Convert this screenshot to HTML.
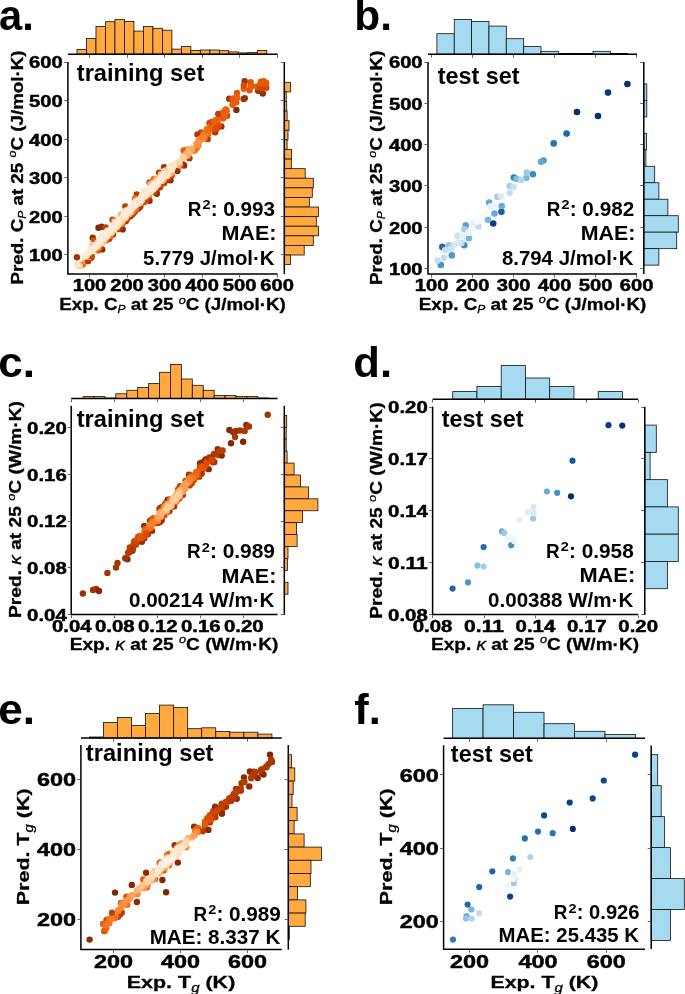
<!DOCTYPE html>
<html><head><meta charset="utf-8"><style>
html,body{margin:0;padding:0;background:#fff;}
svg{display:block;will-change:transform;}
text{font-family:"Liberation Sans", sans-serif;font-weight:bold;}
</style></head><body>
<svg width="685" height="994" viewBox="0 0 685 994">
<rect width="685" height="994" fill="#fff"/>
<clipPath id="clipa"><rect x="67.9" y="62" width="209.7" height="212"/></clipPath>
<g clip-path="url(#clipa)"><circle cx="262.8" cy="93.5" r="3.2" fill="#8e2d04"/><circle cx="92.7" cy="237.8" r="3.2" fill="#8e2d04"/><circle cx="244.64" cy="81.25" r="3.2" fill="#9f3303"/><circle cx="258.01" cy="90.84" r="3.2" fill="#a53603"/><circle cx="76.9" cy="257.3" r="3.2" fill="#a83703"/><circle cx="139.44" cy="207.15" r="3.2" fill="#b53b02"/><circle cx="167.19" cy="179.94" r="3.2" fill="#b33b02"/><circle cx="164.1" cy="167.1" r="3.2" fill="#a83703"/><circle cx="177.5" cy="171" r="3.2" fill="#993103"/><circle cx="216.57" cy="128.65" r="3.2" fill="#ce4401"/><circle cx="102.2" cy="249.4" r="3.2" fill="#8c2c04"/><circle cx="126.32" cy="220.46" r="3.2" fill="#b53b02"/><circle cx="209.46" cy="123.15" r="3.2" fill="#c34002"/><circle cx="107.74" cy="239.26" r="3.2" fill="#d64701"/><circle cx="134.71" cy="211.71" r="3.2" fill="#b63c02"/><circle cx="122.7" cy="229.4" r="3.2" fill="#862a04"/><circle cx="237" cy="92.95" r="3.2" fill="#e35608"/><circle cx="200.99" cy="132.5" r="3.2" fill="#db4b03"/><circle cx="149.5" cy="200.8" r="3.2" fill="#8b2c04"/><circle cx="160.04" cy="186.94" r="3.2" fill="#b33b02"/><circle cx="236.29" cy="102.37" r="3.2" fill="#e15307"/><circle cx="118.74" cy="227.72" r="3.2" fill="#d04501"/><circle cx="154.03" cy="179.03" r="3.2" fill="#e5590a"/><circle cx="262" cy="87.32" r="3.2" fill="#dc4c03"/><circle cx="229.17" cy="98.81" r="3.2" fill="#a03403"/><circle cx="207.28" cy="137.22" r="3.2" fill="#e45709"/><circle cx="149.55" cy="182.48" r="3.2" fill="#c84202"/><circle cx="99.66" cy="248.78" r="3.2" fill="#b53b02"/><circle cx="222.96" cy="112.41" r="3.2" fill="#eb600e"/><circle cx="217.52" cy="119.59" r="3.2" fill="#ec620f"/><circle cx="224.13" cy="113.74" r="3.2" fill="#ec620f"/><circle cx="156.9" cy="189.25" r="3.2" fill="#cd4401"/><circle cx="145.18" cy="200.59" r="3.2" fill="#d54601"/><circle cx="225.44" cy="109.94" r="3.2" fill="#eb610f"/><circle cx="250.6" cy="85.67" r="3.2" fill="#e75c0c"/><circle cx="91.21" cy="257.76" r="3.2" fill="#b53b02"/><circle cx="265.7" cy="84.42" r="3.2" fill="#e4580a"/><circle cx="162.79" cy="182.02" r="3.2" fill="#f5741f"/><circle cx="82.93" cy="264.59" r="3.2" fill="#f06712"/><circle cx="222.56" cy="118.34" r="3.2" fill="#eb600e"/><circle cx="221.4" cy="126.4" r="3.2" fill="#993103"/><circle cx="232.54" cy="98.82" r="3.2" fill="#e35608"/><circle cx="144.04" cy="201.97" r="3.2" fill="#cb4302"/><circle cx="119.04" cy="227.16" r="3.2" fill="#da4902"/><circle cx="138.27" cy="208.29" r="3.2" fill="#b53b02"/><circle cx="125.3" cy="206.5" r="3.2" fill="#bd3e02"/><circle cx="106.64" cy="239.39" r="3.2" fill="#f26b15"/><circle cx="223.78" cy="113.29" r="3.2" fill="#ec620f"/><circle cx="257.3" cy="86.53" r="3.2" fill="#e45709"/><circle cx="244.76" cy="98.17" r="3.2" fill="#9f3303"/><circle cx="249.56" cy="90.26" r="3.2" fill="#e15407"/><circle cx="123.72" cy="221.62" r="3.2" fill="#e75c0c"/><circle cx="131.38" cy="215.09" r="3.2" fill="#b53b02"/><circle cx="98.5" cy="227.8" r="3.2" fill="#832804"/><circle cx="201.17" cy="136.22" r="3.2" fill="#fb8735"/><circle cx="194.99" cy="149.82" r="3.2" fill="#f4711c"/><circle cx="243.83" cy="88.73" r="3.2" fill="#e85d0c"/><circle cx="121.77" cy="224.44" r="3.2" fill="#d34601"/><circle cx="148.52" cy="198.22" r="3.2" fill="#b53b02"/><circle cx="112.6" cy="219.73" r="3.2" fill="#b53b02"/><circle cx="233.08" cy="104.02" r="3.2" fill="#ea5f0e"/><circle cx="132.78" cy="212.94" r="3.2" fill="#ce4401"/><circle cx="200.52" cy="139.43" r="3.2" fill="#fd8c3b"/><circle cx="214.16" cy="124.31" r="3.2" fill="#ee6410"/><circle cx="205.71" cy="136.29" r="3.2" fill="#f57520"/><circle cx="218.71" cy="124.7" r="3.2" fill="#e45709"/><circle cx="109.04" cy="238.81" r="3.2" fill="#b53b02"/><circle cx="207.31" cy="132.32" r="3.2" fill="#f3701b"/><circle cx="197.45" cy="134.44" r="3.2" fill="#b03903"/><circle cx="182.98" cy="164.49" r="3.2" fill="#ab3803"/><circle cx="262" cy="87.1" r="3.2" fill="#de4e05"/><circle cx="109.45" cy="238.37" r="3.2" fill="#b53b02"/><circle cx="223.11" cy="113.11" r="3.2" fill="#eb610f"/><circle cx="118.24" cy="229.04" r="3.2" fill="#b53b02"/><circle cx="262.83" cy="85.88" r="3.2" fill="#e35608"/><circle cx="170.5" cy="180.2" r="3.2" fill="#8b2c04"/><circle cx="260.89" cy="81.69" r="3.2" fill="#e5590a"/><circle cx="101.6" cy="226.8" r="3.2" fill="#882a04"/><circle cx="166.16" cy="178.54" r="3.2" fill="#f77b28"/><circle cx="157.16" cy="187.55" r="3.2" fill="#f5741f"/><circle cx="105.71" cy="227.53" r="3.2" fill="#c34002"/><circle cx="205.61" cy="133.43" r="3.2" fill="#f67723"/><circle cx="218.2" cy="114.06" r="3.2" fill="#c03f02"/><circle cx="200.04" cy="138.61" r="3.2" fill="#fd8f3e"/><circle cx="98.02" cy="250.36" r="3.2" fill="#b93d02"/><circle cx="223.77" cy="113.5" r="3.2" fill="#ec620f"/><circle cx="207.67" cy="139.17" r="3.2" fill="#b63c02"/><circle cx="208.29" cy="133.66" r="3.2" fill="#f16913"/><circle cx="215.11" cy="123.57" r="3.2" fill="#ee6410"/><circle cx="132.83" cy="213.64" r="3.2" fill="#b53b02"/><circle cx="210.56" cy="126.57" r="3.2" fill="#ee6410"/><circle cx="120.47" cy="226.68" r="3.2" fill="#b53b02"/><circle cx="140.23" cy="206.37" r="3.2" fill="#b53b02"/><circle cx="260.84" cy="91.33" r="3.2" fill="#9e3303"/><circle cx="211.97" cy="128.21" r="3.2" fill="#ee6410"/><circle cx="159.1" cy="172.6" r="3.2" fill="#b63c02"/><circle cx="210.24" cy="125.75" r="3.2" fill="#eb600e"/><circle cx="121.38" cy="222.76" r="3.2" fill="#fd9b50"/><circle cx="259.84" cy="87.34" r="3.2" fill="#dd4d04"/><circle cx="236.4" cy="109.9" r="3.2" fill="#892b04"/><circle cx="211.72" cy="121.84" r="3.2" fill="#d84801"/><circle cx="132.06" cy="213.93" r="3.2" fill="#c34002"/><circle cx="171.61" cy="175.61" r="3.2" fill="#b03903"/><circle cx="114.28" cy="220.34" r="3.2" fill="#f87e2b"/><circle cx="199.9" cy="140.7" r="3.2" fill="#fd8f3e"/><circle cx="99.41" cy="247.44" r="3.2" fill="#e75c0c"/><circle cx="130.23" cy="216.31" r="3.2" fill="#b53b02"/><circle cx="251.91" cy="85.97" r="3.2" fill="#e75b0b"/><circle cx="147.18" cy="199.54" r="3.2" fill="#b53b02"/><circle cx="204.25" cy="138.51" r="3.2" fill="#f57622"/><circle cx="127.66" cy="215.69" r="3.2" fill="#fdaf6c"/><circle cx="113" cy="234.61" r="3.2" fill="#b53b02"/><circle cx="147.65" cy="198.56" r="3.2" fill="#c54102"/><circle cx="236.69" cy="96.78" r="3.2" fill="#ea5f0e"/><circle cx="88.53" cy="256.86" r="3.2" fill="#fdbf86"/><circle cx="164.15" cy="182.91" r="3.2" fill="#b33b02"/><circle cx="215.49" cy="120.22" r="3.2" fill="#e95e0d"/><circle cx="156.8" cy="193.7" r="3.2" fill="#8b2c04"/><circle cx="184.2" cy="150.7" r="3.2" fill="#f9802d"/><circle cx="196.34" cy="143.64" r="3.2" fill="#fd9c51"/><circle cx="227.12" cy="115.77" r="3.2" fill="#d04501"/><circle cx="125.52" cy="221.31" r="3.2" fill="#b53b02"/><circle cx="184.2" cy="165.6" r="3.2" fill="#902e04"/><circle cx="120.6" cy="222.73" r="3.2" fill="#fdc590"/><circle cx="194.82" cy="150.34" r="3.2" fill="#f16813"/><circle cx="215.16" cy="132.24" r="3.2" fill="#a53603"/><circle cx="188.37" cy="151.53" r="3.2" fill="#fdbb81"/><circle cx="265.53" cy="82.69" r="3.2" fill="#e4580a"/><circle cx="193.56" cy="150.79" r="3.2" fill="#f9812e"/><circle cx="85.51" cy="260.7" r="3.2" fill="#fd9f56"/><circle cx="225.79" cy="109.4" r="3.2" fill="#eb600e"/><circle cx="205.34" cy="135.04" r="3.2" fill="#f67824"/><circle cx="207.21" cy="133.57" r="3.2" fill="#f3701b"/><circle cx="101.58" cy="243.48" r="3.2" fill="#fda965"/><circle cx="236.86" cy="98.26" r="3.2" fill="#ea5f0e"/><circle cx="126.81" cy="218.76" r="3.2" fill="#dd4d04"/><circle cx="243.62" cy="98.96" r="3.2" fill="#9f3303"/><circle cx="250.6" cy="82.09" r="3.2" fill="#e35608"/><circle cx="136.78" cy="194.45" r="3.2" fill="#b53b02"/><circle cx="211.74" cy="129.19" r="3.2" fill="#ee6410"/><circle cx="224.65" cy="116.13" r="3.2" fill="#e95e0d"/><circle cx="198.49" cy="140.18" r="3.2" fill="#fd9446"/><circle cx="154.6" cy="191.97" r="3.2" fill="#bd3e02"/><circle cx="215.09" cy="129.09" r="3.2" fill="#de5005"/><circle cx="184.25" cy="154.74" r="3.2" fill="#fdca99"/><circle cx="79.85" cy="265.86" r="3.2" fill="#fdc794"/><circle cx="109.91" cy="235.97" r="3.2" fill="#f16813"/><circle cx="137.54" cy="209.01" r="3.2" fill="#b53b02"/><circle cx="140.12" cy="206.48" r="3.2" fill="#b53b02"/><circle cx="179.12" cy="165.53" r="3.2" fill="#f67723"/><circle cx="110.4" cy="234.54" r="3.2" fill="#fd9547"/><circle cx="266.31" cy="87.68" r="3.2" fill="#d54601"/><circle cx="147.56" cy="199.17" r="3.2" fill="#b53b02"/><circle cx="95.94" cy="249.48" r="3.2" fill="#fda965"/><circle cx="157.24" cy="186.55" r="3.2" fill="#fda25a"/><circle cx="130.25" cy="211.97" r="3.2" fill="#fdd7af"/><circle cx="94.05" cy="240.82" r="3.2" fill="#e15407"/><circle cx="153.24" cy="189.34" r="3.2" fill="#fdd5ab"/><circle cx="90.91" cy="255.46" r="3.2" fill="#fb8836"/><circle cx="187.05" cy="149.28" r="3.2" fill="#fda965"/><circle cx="251.81" cy="86.32" r="3.2" fill="#e75b0b"/><circle cx="263.82" cy="81.29" r="3.2" fill="#e5590a"/><circle cx="97.41" cy="248.93" r="3.2" fill="#f57622"/><circle cx="159.77" cy="187.2" r="3.2" fill="#b33b02"/><circle cx="168.1" cy="179.05" r="3.2" fill="#b33b02"/><circle cx="119.85" cy="223.22" r="3.2" fill="#fdd1a4"/><circle cx="161.66" cy="184.25" r="3.2" fill="#da4902"/><circle cx="235.61" cy="101.8" r="3.2" fill="#e75c0c"/><circle cx="190.28" cy="150.94" r="3.2" fill="#fdb373"/><circle cx="114.33" cy="230.06" r="3.2" fill="#fda45d"/><circle cx="133.56" cy="209.94" r="3.2" fill="#fd9c51"/><circle cx="105.83" cy="240.41" r="3.2" fill="#ee6410"/><circle cx="189.45" cy="158.15" r="3.2" fill="#b03903"/><circle cx="130.4" cy="216.13" r="3.2" fill="#b53b02"/><circle cx="232.46" cy="104.73" r="3.2" fill="#ea5f0e"/><circle cx="88.01" cy="261.15" r="3.2" fill="#b33b02"/><circle cx="150.33" cy="183.77" r="3.2" fill="#fc8b3a"/><circle cx="183.6" cy="150.4" r="3.2" fill="#e95e0d"/><circle cx="125.36" cy="216.7" r="3.2" fill="#fee0c3"/><circle cx="261.56" cy="87.93" r="3.2" fill="#d64701"/><circle cx="91.37" cy="255.74" r="3.2" fill="#ee6410"/><circle cx="206.73" cy="129.22" r="3.2" fill="#f26b15"/><circle cx="119.89" cy="223.99" r="3.2" fill="#fdad69"/><circle cx="203.55" cy="135.01" r="3.2" fill="#f9802d"/><circle cx="106.72" cy="236.57" r="3.2" fill="#fedfc0"/><circle cx="215.85" cy="123.38" r="3.2" fill="#ed6310"/><circle cx="89.13" cy="257.15" r="3.2" fill="#fd9243"/><circle cx="162.37" cy="180.76" r="3.2" fill="#fdc794"/><circle cx="186.27" cy="154.02" r="3.2" fill="#fdc38d"/><circle cx="170.7" cy="175.36" r="3.2" fill="#da4902"/><circle cx="180.26" cy="165.4" r="3.2" fill="#de5005"/><circle cx="156.54" cy="185.83" r="3.2" fill="#fddbb8"/><circle cx="223.2" cy="118.27" r="3.2" fill="#e75c0c"/><circle cx="226.41" cy="110.69" r="3.2" fill="#eb610f"/><circle cx="226.52" cy="110.7" r="3.2" fill="#eb610f"/><circle cx="124.74" cy="216.53" r="3.2" fill="#fee9d4"/><circle cx="114.44" cy="228.3" r="3.2" fill="#fee0c3"/><circle cx="91.74" cy="256.31" r="3.2" fill="#d34601"/><circle cx="243.87" cy="85.45" r="3.2" fill="#dc4c03"/><circle cx="225.24" cy="113.6" r="3.2" fill="#eb610f"/><circle cx="145.96" cy="199.79" r="3.2" fill="#d64701"/><circle cx="148.35" cy="193.78" r="3.2" fill="#feddbc"/><circle cx="162.34" cy="177.48" r="3.2" fill="#feecd9"/><circle cx="171.35" cy="165.39" r="3.2" fill="#fee0c1"/><circle cx="150.28" cy="188.97" r="3.2" fill="#feecd9"/><circle cx="116.98" cy="224.95" r="3.2" fill="#fee8d2"/><circle cx="216.98" cy="127.46" r="3.2" fill="#db4b03"/><circle cx="260.66" cy="83.23" r="3.2" fill="#e65a0b"/><circle cx="165.4" cy="176.19" r="3.2" fill="#fee8d2"/><circle cx="112.62" cy="229.98" r="3.2" fill="#fee5cb"/><circle cx="160.93" cy="174.21" r="3.2" fill="#fdb576"/><circle cx="149.83" cy="188.07" r="3.2" fill="#feebd8"/><circle cx="116.89" cy="227.51" r="3.2" fill="#fd9c51"/><circle cx="113.75" cy="226.56" r="3.2" fill="#feecd9"/><circle cx="92.46" cy="248.95" r="3.2" fill="#feebd7"/><circle cx="134.9" cy="198.52" r="3.2" fill="#f57622"/><circle cx="144.35" cy="191.48" r="3.2" fill="#fddab6"/><circle cx="265.75" cy="87.34" r="3.2" fill="#da4902"/><circle cx="161.65" cy="176.05" r="3.2" fill="#feebd7"/><circle cx="168.77" cy="168.56" r="3.2" fill="#fee9d3"/><circle cx="198.51" cy="145.4" r="3.2" fill="#f87e2b"/><circle cx="122.01" cy="221.47" r="3.2" fill="#fdb97d"/><circle cx="161.6" cy="178.12" r="3.2" fill="#feecd9"/><circle cx="101.66" cy="241.78" r="3.2" fill="#fee2c6"/><circle cx="187.86" cy="155.46" r="3.2" fill="#fda45d"/><circle cx="171.11" cy="173.6" r="3.2" fill="#f87e2b"/><circle cx="116.66" cy="226.48" r="3.2" fill="#fdd5ab"/><circle cx="121.22" cy="219.15" r="3.2" fill="#feecd9"/><circle cx="151.02" cy="188.67" r="3.2" fill="#feecd9"/><circle cx="124.64" cy="218.33" r="3.2" fill="#fdca99"/><circle cx="107.3" cy="230.6" r="3.2" fill="#fee6cf"/><circle cx="150.64" cy="191.41" r="3.2" fill="#fee0c1"/><circle cx="178.62" cy="164.96" r="3.2" fill="#fda762"/><circle cx="176.31" cy="163.29" r="3.2" fill="#fedfc0"/><circle cx="154.98" cy="187.46" r="3.2" fill="#fdd9b4"/><circle cx="167.22" cy="174.47" r="3.2" fill="#fee8d2"/><circle cx="184.52" cy="157.19" r="3.2" fill="#fdc692"/><circle cx="141.18" cy="200.96" r="3.2" fill="#fddab6"/><circle cx="135.47" cy="206.11" r="3.2" fill="#fee3c8"/><circle cx="214.17" cy="121.92" r="3.2" fill="#eb600e"/><circle cx="164.38" cy="171.5" r="3.2" fill="#fdd3a9"/><circle cx="162.72" cy="176.42" r="3.2" fill="#feecd9"/><circle cx="167.13" cy="172.66" r="3.2" fill="#feecd9"/><circle cx="98.33" cy="242.49" r="3.2" fill="#feecd9"/><circle cx="204.82" cy="134.95" r="3.2" fill="#f77a27"/><circle cx="90.93" cy="249.27" r="3.2" fill="#feead6"/><circle cx="127.43" cy="213.29" r="3.2" fill="#feebd7"/><circle cx="101.12" cy="239.6" r="3.2" fill="#feecd9"/><circle cx="117.54" cy="222.82" r="3.2" fill="#feecd9"/><circle cx="119.91" cy="222.05" r="3.2" fill="#fee6cf"/><circle cx="266.2" cy="82.9" r="3.2" fill="#e4580a"/><circle cx="129.56" cy="213.98" r="3.2" fill="#fd9f56"/><circle cx="167.31" cy="176.13" r="3.2" fill="#fdbd83"/><circle cx="182.86" cy="158.09" r="3.2" fill="#fdcfa0"/><circle cx="153.46" cy="185.53" r="3.2" fill="#feecd9"/><circle cx="135.18" cy="206.72" r="3.2" fill="#feddbc"/><circle cx="196.99" cy="147.87" r="3.2" fill="#f26d17"/><circle cx="132.02" cy="207.84" r="3.2" fill="#feecd9"/><circle cx="139.29" cy="199.74" r="3.2" fill="#feecd9"/><circle cx="125.68" cy="216.52" r="3.2" fill="#fedebd"/><circle cx="96.9" cy="246.04" r="3.2" fill="#fee9d3"/><circle cx="150.62" cy="188.88" r="3.2" fill="#feecd9"/><circle cx="94.28" cy="248.43" r="3.2" fill="#feead5"/><circle cx="163.48" cy="178.03" r="3.2" fill="#fee8d2"/><circle cx="153.56" cy="182.72" r="3.2" fill="#fee0c1"/><circle cx="115.61" cy="224.17" r="3.2" fill="#feecd9"/><circle cx="141.08" cy="198.01" r="3.2" fill="#feecd9"/><circle cx="154.09" cy="185.03" r="3.2" fill="#feecd9"/><circle cx="132.15" cy="211.75" r="3.2" fill="#fb8735"/><circle cx="135.98" cy="208.37" r="3.2" fill="#f5741f"/><circle cx="132.06" cy="207.73" r="3.2" fill="#feecd9"/><circle cx="114.05" cy="227.78" r="3.2" fill="#feead5"/><circle cx="119.51" cy="224.15" r="3.2" fill="#fdb87c"/><circle cx="202.35" cy="137.87" r="3.2" fill="#fa8532"/><circle cx="122.93" cy="216.82" r="3.2" fill="#feecd9"/><circle cx="132.64" cy="211.63" r="3.2" fill="#f57520"/><circle cx="101.72" cy="240.15" r="3.2" fill="#feebd8"/><circle cx="123.29" cy="216.25" r="3.2" fill="#feecd9"/><circle cx="109" cy="231.16" r="3.2" fill="#feecd9"/><circle cx="144.69" cy="194.91" r="3.2" fill="#feecd9"/><circle cx="118.87" cy="217.88" r="3.2" fill="#fee1c4"/><circle cx="136.34" cy="202.55" r="3.2" fill="#feecd9"/><circle cx="98.25" cy="242.68" r="3.2" fill="#feecd9"/><circle cx="111.07" cy="229.26" r="3.2" fill="#feecd9"/><circle cx="102.55" cy="237.82" r="3.2" fill="#feecd9"/><circle cx="145.99" cy="193.47" r="3.2" fill="#feecd9"/><circle cx="142.17" cy="196.51" r="3.2" fill="#feecd9"/><circle cx="164.6" cy="175.48" r="3.2" fill="#feecd9"/><circle cx="110.88" cy="230.15" r="3.2" fill="#feecd9"/><circle cx="110.88" cy="229.16" r="3.2" fill="#feecd9"/><circle cx="97.45" cy="243.44" r="3.2" fill="#feebd8"/><circle cx="123.98" cy="216.13" r="3.2" fill="#feecd9"/><circle cx="154.23" cy="187.81" r="3.2" fill="#fee1c4"/><circle cx="149.31" cy="194.67" r="3.2" fill="#fd9243"/><circle cx="119.38" cy="220.29" r="3.2" fill="#feecd9"/><circle cx="179.77" cy="163.58" r="3.2" fill="#fdae6a"/><circle cx="150.53" cy="191.61" r="3.2" fill="#fedebd"/><circle cx="155.88" cy="178.91" r="3.2" fill="#fda863"/><circle cx="117.11" cy="222.75" r="3.2" fill="#feecd9"/><circle cx="116.71" cy="224.61" r="3.2" fill="#feebd7"/><circle cx="164.75" cy="176.81" r="3.2" fill="#fee8d2"/><circle cx="113.79" cy="228.98" r="3.2" fill="#fee0c3"/><circle cx="150.8" cy="184.18" r="3.2" fill="#fdb678"/><circle cx="95.88" cy="246.95" r="3.2" fill="#feead5"/><circle cx="92.3" cy="250.71" r="3.2" fill="#fee9d4"/><circle cx="97.41" cy="243.58" r="3.2" fill="#feebd8"/><circle cx="168.37" cy="171.31" r="3.2" fill="#feecd9"/><circle cx="169.91" cy="173.19" r="3.2" fill="#fdce9e"/><circle cx="137.04" cy="201.17" r="3.2" fill="#feecd9"/><circle cx="120.92" cy="222.7" r="3.2" fill="#fdb678"/><circle cx="174.14" cy="165.45" r="3.2" fill="#fee5cb"/><circle cx="159.75" cy="180.56" r="3.2" fill="#feecd9"/><circle cx="141.76" cy="200.28" r="3.2" fill="#fedcbb"/><circle cx="86.91" cy="254.53" r="3.2" fill="#feead6"/><circle cx="120.94" cy="214.41" r="3.2" fill="#fdb87c"/><circle cx="99.49" cy="241.05" r="3.2" fill="#feecd9"/><circle cx="160.22" cy="179.49" r="3.2" fill="#feecd9"/><circle cx="111.56" cy="232.73" r="3.2" fill="#fdb271"/><circle cx="158.12" cy="184.05" r="3.2" fill="#fee0c1"/><circle cx="123.96" cy="215.88" r="3.2" fill="#feecd9"/><circle cx="127.4" cy="211.31" r="3.2" fill="#feecd9"/><circle cx="114.65" cy="222.08" r="3.2" fill="#fedcb9"/><circle cx="158.07" cy="180.7" r="3.2" fill="#feecd9"/><circle cx="119.01" cy="220.51" r="3.2" fill="#feecd9"/><circle cx="106.9" cy="235.06" r="3.2" fill="#feebd7"/><circle cx="136.29" cy="202.56" r="3.2" fill="#feecd9"/><circle cx="190.12" cy="151.8" r="3.2" fill="#fdb271"/><circle cx="132.55" cy="207.96" r="3.2" fill="#feead6"/><circle cx="118.41" cy="221.21" r="3.2" fill="#feecd9"/><circle cx="141.82" cy="195.61" r="3.2" fill="#feebd7"/><circle cx="166.15" cy="173.37" r="3.2" fill="#feecd9"/><circle cx="122.21" cy="219.15" r="3.2" fill="#fee9d4"/><circle cx="79.14" cy="266.28" r="3.2" fill="#fdd1a4"/><circle cx="120.69" cy="223.73" r="3.2" fill="#fd9040"/><circle cx="113.49" cy="227.61" r="3.2" fill="#feebd8"/><circle cx="140.18" cy="202.79" r="3.2" fill="#fdbd83"/><circle cx="188.57" cy="150.71" r="3.2" fill="#fdba7f"/><circle cx="137.07" cy="204.25" r="3.2" fill="#fee6cf"/><circle cx="99.58" cy="239.3" r="3.2" fill="#feead5"/><circle cx="89.37" cy="252.27" r="3.2" fill="#feead6"/><circle cx="182.96" cy="156.67" r="3.2" fill="#fdcfa0"/><circle cx="131.73" cy="206.87" r="3.2" fill="#feecd9"/><circle cx="119.18" cy="221.81" r="3.2" fill="#feebd8"/><circle cx="114.1" cy="227.19" r="3.2" fill="#feebd8"/><circle cx="77.05" cy="264.56" r="3.2" fill="#fee3c8"/><circle cx="197.55" cy="145.39" r="3.2" fill="#fd9040"/><circle cx="108.84" cy="231.61" r="3.2" fill="#feecd9"/><circle cx="116.84" cy="225.58" r="3.2" fill="#fee3c8"/><circle cx="110.44" cy="230.17" r="3.2" fill="#feecd9"/><circle cx="104.25" cy="236.56" r="3.2" fill="#feecd9"/><circle cx="153.79" cy="184.22" r="3.2" fill="#feebd8"/><circle cx="132.01" cy="206.99" r="3.2" fill="#feecd9"/><circle cx="120.99" cy="218.8" r="3.2" fill="#feecd9"/><circle cx="137.55" cy="203.61" r="3.2" fill="#fee8d2"/><circle cx="139.94" cy="200.96" r="3.2" fill="#fee9d4"/><circle cx="104.02" cy="240.76" r="3.2" fill="#fdb170"/><circle cx="85.29" cy="256" r="3.2" fill="#feead5"/><circle cx="191.75" cy="148.69" r="3.2" fill="#fdae6a"/><circle cx="170.58" cy="169.56" r="3.2" fill="#feebd7"/><circle cx="88.91" cy="252.96" r="3.2" fill="#feead6"/><circle cx="153.23" cy="189.21" r="3.2" fill="#fdd8b2"/><circle cx="129.89" cy="211.56" r="3.2" fill="#fee5cc"/><circle cx="117.87" cy="221.51" r="3.2" fill="#feecd9"/><circle cx="158.38" cy="181.35" r="3.2" fill="#feecd9"/><circle cx="165.1" cy="173.92" r="3.2" fill="#feecd9"/><circle cx="92.39" cy="245.15" r="3.2" fill="#fdca99"/><circle cx="154.32" cy="186.78" r="3.2" fill="#feead5"/><circle cx="102.05" cy="238.49" r="3.2" fill="#feecd9"/><circle cx="126.23" cy="215.9" r="3.2" fill="#fedebf"/><circle cx="156.6" cy="184.6" r="3.2" fill="#fee9d4"/><circle cx="97.88" cy="246.35" r="3.2" fill="#fdd6ae"/><circle cx="118.19" cy="224.52" r="3.2" fill="#feddbc"/><circle cx="123.99" cy="215.74" r="3.2" fill="#feecd9"/><circle cx="126.03" cy="210.34" r="3.2" fill="#fee2c6"/><circle cx="171.71" cy="172.05" r="3.2" fill="#fdac67"/><circle cx="151.94" cy="189.59" r="3.2" fill="#fee7d0"/><circle cx="129.83" cy="212.5" r="3.2" fill="#fdd5ab"/><circle cx="151.33" cy="188.18" r="3.2" fill="#feecd9"/><circle cx="121.85" cy="221.6" r="3.2" fill="#fdbb81"/><circle cx="164.08" cy="177.14" r="3.2" fill="#feead5"/><circle cx="130.69" cy="208.29" r="3.2" fill="#feecd9"/><circle cx="105.52" cy="234.25" r="3.2" fill="#feecd9"/><circle cx="144.2" cy="194.79" r="3.2" fill="#feecd9"/><circle cx="152.89" cy="187.6" r="3.2" fill="#feebd8"/><circle cx="105.76" cy="235.74" r="3.2" fill="#feecd9"/><circle cx="110.71" cy="229.79" r="3.2" fill="#feecd9"/><circle cx="151.82" cy="187.01" r="3.2" fill="#feecd9"/><circle cx="150.18" cy="191.34" r="3.2" fill="#fee7d0"/><circle cx="164.11" cy="176.24" r="3.2" fill="#feecd9"/><circle cx="135.98" cy="201.48" r="3.2" fill="#feebd8"/><circle cx="100.82" cy="243.17" r="3.2" fill="#fdd8b2"/><circle cx="167.5" cy="174.55" r="3.2" fill="#fee5cb"/><circle cx="111.71" cy="230.24" r="3.2" fill="#feead5"/><circle cx="123.47" cy="216.02" r="3.2" fill="#feecd9"/><circle cx="130.51" cy="211.44" r="3.2" fill="#fedcbb"/><circle cx="133.12" cy="205.99" r="3.2" fill="#feecd9"/><circle cx="126.26" cy="214.46" r="3.2" fill="#feebd7"/><circle cx="152.34" cy="189.81" r="3.2" fill="#fedebf"/><circle cx="108.74" cy="231.18" r="3.2" fill="#feecd9"/><circle cx="111.43" cy="232.51" r="3.2" fill="#fdc38d"/><circle cx="163.6" cy="180.09" r="3.2" fill="#fdad69"/><circle cx="149.52" cy="191.26" r="3.2" fill="#feebd7"/><circle cx="117.34" cy="223.24" r="3.2" fill="#feecd9"/><circle cx="142.41" cy="196.44" r="3.2" fill="#feecd9"/><circle cx="113.16" cy="227.04" r="3.2" fill="#feecd9"/><circle cx="123.65" cy="217.79" r="3.2" fill="#fee8d2"/><circle cx="141.57" cy="198.94" r="3.2" fill="#feebd7"/><circle cx="130.88" cy="209.47" r="3.2" fill="#feebd7"/><circle cx="120.4" cy="221.54" r="3.2" fill="#fee6cf"/><circle cx="111.96" cy="231.36" r="3.2" fill="#fdd7b1"/><circle cx="103.73" cy="237.52" r="3.2" fill="#feecd9"/><circle cx="133.14" cy="205.29" r="3.2" fill="#feecd9"/><circle cx="137.47" cy="202.77" r="3.2" fill="#feebd8"/><circle cx="91.38" cy="249.5" r="3.2" fill="#feebd7"/><circle cx="90.71" cy="250.2" r="3.2" fill="#feebd7"/><circle cx="102.36" cy="240.34" r="3.2" fill="#fee9d3"/><circle cx="170.84" cy="168.94" r="3.2" fill="#feead6"/><circle cx="105.27" cy="236.85" r="3.2" fill="#feead6"/><circle cx="144.67" cy="194.6" r="3.2" fill="#feecd9"/><circle cx="179.12" cy="161.94" r="3.2" fill="#fdd7b1"/><circle cx="134.19" cy="206.19" r="3.2" fill="#feebd7"/><circle cx="146.99" cy="193.14" r="3.2" fill="#feecd9"/><circle cx="160.75" cy="180.4" r="3.2" fill="#feead5"/><circle cx="162.29" cy="177.97" r="3.2" fill="#feecd9"/><circle cx="142.91" cy="196.53" r="3.2" fill="#feecd9"/><circle cx="167.01" cy="172.33" r="3.2" fill="#feecd9"/><circle cx="135.21" cy="203.68" r="3.2" fill="#feecd9"/><circle cx="94.01" cy="247.68" r="3.2" fill="#feebd7"/><circle cx="124.83" cy="214.68" r="3.2" fill="#feecd9"/><circle cx="154.73" cy="185.74" r="3.2" fill="#feebd8"/><circle cx="137.52" cy="200.78" r="3.2" fill="#feecd9"/><circle cx="145.18" cy="196.58" r="3.2" fill="#fee2c7"/><circle cx="96.09" cy="244.61" r="3.2" fill="#feebd8"/><circle cx="110.67" cy="231.11" r="3.2" fill="#feebd7"/><circle cx="104.33" cy="236.99" r="3.2" fill="#feecd9"/><circle cx="159.68" cy="181.37" r="3.2" fill="#feead6"/><circle cx="146.95" cy="192.66" r="3.2" fill="#feecd9"/><circle cx="157.41" cy="184.32" r="3.2" fill="#fee6ce"/><circle cx="124.65" cy="214.79" r="3.2" fill="#feecd9"/><circle cx="150.27" cy="192.22" r="3.2" fill="#fdd5ad"/><circle cx="108.53" cy="231.82" r="3.2" fill="#feecd9"/><circle cx="133.35" cy="205.33" r="3.2" fill="#feecd9"/><circle cx="102.03" cy="236.12" r="3.2" fill="#fee6ce"/><circle cx="130.05" cy="209.81" r="3.2" fill="#feecd9"/><circle cx="96.54" cy="245.76" r="3.2" fill="#feebd7"/><circle cx="109.37" cy="232.51" r="3.2" fill="#feead6"/><circle cx="103.02" cy="240.03" r="3.2" fill="#fee6cf"/><circle cx="139.06" cy="199.82" r="3.2" fill="#feecd9"/><circle cx="144.62" cy="191.41" r="3.2" fill="#fedebf"/><circle cx="124.26" cy="216.36" r="3.2" fill="#feebd8"/><circle cx="115.55" cy="224.62" r="3.2" fill="#feecd9"/><circle cx="122.61" cy="220.29" r="3.2" fill="#fdd1a4"/><circle cx="124.08" cy="212.15" r="3.2" fill="#feddbc"/><circle cx="125.52" cy="216.87" r="3.2" fill="#fdd9b5"/><circle cx="164.93" cy="170.81" r="3.2" fill="#fdcfa0"/><circle cx="124.93" cy="215.3" r="3.2" fill="#feecd9"/><circle cx="151.43" cy="190.14" r="3.2" fill="#fee6cf"/><circle cx="91.28" cy="251.31" r="3.2" fill="#feead6"/><circle cx="103.86" cy="236.91" r="3.2" fill="#feecd9"/><circle cx="160.14" cy="178.98" r="3.2" fill="#feecd9"/><circle cx="172.53" cy="168.24" r="3.2" fill="#fee7d0"/><circle cx="96.02" cy="244.58" r="3.2" fill="#feebd8"/><circle cx="145.24" cy="191.45" r="3.2" fill="#fee7d1"/><circle cx="113.21" cy="226.59" r="3.2" fill="#feecd9"/><circle cx="102.4" cy="238.63" r="3.2" fill="#feecd9"/><circle cx="109.53" cy="232.42" r="3.2" fill="#feead6"/><circle cx="163.58" cy="175.19" r="3.2" fill="#feecd9"/><circle cx="171.09" cy="169.87" r="3.2" fill="#fee9d4"/><circle cx="132.19" cy="207.11" r="3.2" fill="#feecd9"/><circle cx="116.03" cy="224.83" r="3.2" fill="#feecd9"/><circle cx="95.19" cy="246.17" r="3.2" fill="#feebd8"/><circle cx="126.85" cy="211.59" r="3.2" fill="#feecd9"/><circle cx="102.26" cy="240.09" r="3.2" fill="#feead6"/><circle cx="84.36" cy="256.84" r="3.2" fill="#feead5"/><circle cx="104.27" cy="237.5" r="3.2" fill="#feebd8"/><circle cx="145.21" cy="195.51" r="3.2" fill="#feead6"/><circle cx="164.57" cy="174.41" r="3.2" fill="#feecd9"/><circle cx="110.34" cy="231.29" r="3.2" fill="#feebd7"/><circle cx="130.72" cy="209.01" r="3.2" fill="#feecd9"/><circle cx="152.03" cy="185.8" r="3.2" fill="#feebd8"/><circle cx="138.28" cy="203.39" r="3.2" fill="#fee2c7"/><circle cx="163.7" cy="176.11" r="3.2" fill="#feecd9"/><circle cx="98.52" cy="242.44" r="3.2" fill="#feecd9"/><circle cx="115.44" cy="226.59" r="3.2" fill="#fee8d2"/><circle cx="107.18" cy="234.19" r="3.2" fill="#feecd9"/><circle cx="100.8" cy="239.37" r="3.2" fill="#feecd9"/><circle cx="99.8" cy="240.34" r="3.2" fill="#feecd9"/><circle cx="146.34" cy="194.67" r="3.2" fill="#fee9d4"/><circle cx="129.9" cy="208.01" r="3.2" fill="#feecd9"/><circle cx="105.61" cy="237.51" r="3.2" fill="#fee3c8"/><circle cx="106.85" cy="232.89" r="3.2" fill="#feecd9"/><circle cx="127.47" cy="212.1" r="3.2" fill="#feecd9"/><circle cx="99.05" cy="242.19" r="3.2" fill="#feecd9"/><circle cx="96.85" cy="245.17" r="3.2" fill="#feebd8"/><circle cx="129.42" cy="210.09" r="3.2" fill="#feecd9"/><circle cx="86.83" cy="255.13" r="3.2" fill="#feead6"/><circle cx="140.79" cy="199.82" r="3.2" fill="#feebd7"/><circle cx="118.12" cy="224.49" r="3.2" fill="#fedfc0"/><circle cx="124.18" cy="216.6" r="3.2" fill="#feebd7"/><circle cx="124.82" cy="215.04" r="3.2" fill="#feecd9"/><circle cx="156.51" cy="183.62" r="3.2" fill="#feecd9"/><circle cx="167.41" cy="174.53" r="3.2" fill="#fee6ce"/><circle cx="112.73" cy="229.03" r="3.2" fill="#feead6"/><circle cx="105.16" cy="237.77" r="3.2" fill="#fee6ce"/><circle cx="155.9" cy="183.49" r="3.2" fill="#feecd9"/><circle cx="151.27" cy="188.24" r="3.2" fill="#feecd9"/><circle cx="106.77" cy="234.97" r="3.2" fill="#feebd8"/><circle cx="100.16" cy="239.54" r="3.2" fill="#feecd9"/><circle cx="150.8" cy="189.26" r="3.2" fill="#feecd9"/><circle cx="97.81" cy="243.39" r="3.2" fill="#feebd8"/><circle cx="118.87" cy="221.62" r="3.2" fill="#feecd9"/><circle cx="156.6" cy="183.11" r="3.2" fill="#feecd9"/><circle cx="160.8" cy="179" r="3.2" fill="#feecd9"/><circle cx="124.89" cy="214.86" r="3.2" fill="#feecd9"/><circle cx="113.86" cy="225.42" r="3.2" fill="#feecd9"/><circle cx="98.83" cy="243.1" r="3.2" fill="#feebd8"/><circle cx="134.68" cy="204.7" r="3.2" fill="#feecd9"/><circle cx="150.62" cy="188.65" r="3.2" fill="#feecd9"/></g>
<g fill="#FFA940" stroke="#111" stroke-width="0.8"><rect x="77" y="49.4" width="9.49" height="4.8"/><rect x="86.49" y="38.4" width="9.49" height="15.8"/><rect x="95.98" y="26.4" width="9.49" height="27.8"/><rect x="105.47" y="21.7" width="9.49" height="32.5"/><rect x="114.96" y="19.5" width="9.49" height="34.7"/><rect x="124.45" y="21.4" width="9.49" height="32.8"/><rect x="133.94" y="31.1" width="9.49" height="23.1"/><rect x="143.43" y="26.4" width="9.49" height="27.8"/><rect x="152.92" y="28.3" width="9.49" height="25.9"/><rect x="162.41" y="30.2" width="9.49" height="24"/><rect x="171.9" y="49.1" width="9.49" height="5.1"/><rect x="181.39" y="46.6" width="9.49" height="7.6"/><rect x="190.88" y="50.4" width="9.49" height="3.8"/><rect x="200.37" y="50" width="9.49" height="4.2"/><rect x="209.86" y="50" width="9.49" height="4.2"/><rect x="219.35" y="50.7" width="9.49" height="3.5"/><rect x="228.84" y="51.9" width="9.49" height="2.3"/><rect x="238.33" y="52.9" width="9.49" height="1.3"/><rect x="247.82" y="52.6" width="9.49" height="1.6"/><rect x="257.31" y="50.4" width="9.49" height="3.8"/><rect x="284.3" y="82.3" width="6.1" height="9.6"/><rect x="284.3" y="91.89" width="1.9" height="9.6"/><rect x="284.3" y="101.49" width="2.4" height="9.6"/><rect x="284.3" y="111.09" width="2.8" height="9.6"/><rect x="284.3" y="120.68" width="4.7" height="9.6"/><rect x="284.3" y="130.28" width="3.7" height="9.6"/><rect x="284.3" y="139.87" width="2.8" height="9.6"/><rect x="284.3" y="149.47" width="7.2" height="9.6"/><rect x="284.3" y="159.06" width="7" height="9.6"/><rect x="284.3" y="168.66" width="20.9" height="9.6"/><rect x="284.3" y="178.25" width="29" height="9.6"/><rect x="284.3" y="187.84" width="28" height="9.6"/><rect x="284.3" y="197.44" width="25" height="9.6"/><rect x="284.3" y="207.04" width="34.1" height="9.6"/><rect x="284.3" y="216.63" width="32" height="9.6"/><rect x="284.3" y="226.23" width="34.1" height="9.6"/><rect x="284.3" y="235.82" width="29" height="9.6"/><rect x="284.3" y="245.42" width="19.9" height="9.6"/><rect x="284.3" y="255.01" width="6.1" height="9.6"/></g>
<g stroke="#000" stroke-width="1.5" fill="none" stroke-linecap="butt" stroke-linejoin="miter">
<path d="M67.9 62V274H277.6"/>
<path d="M67.9 54.2H277.6"/>
<path d="M284.3 62V274"/>
</g>
<path d="M89.5 274.75v2.8M89.5 54.95v2.8M127.5 274.75v2.8M127.5 54.95v2.8M164.5 274.75v2.8M164.5 54.95v2.8M202.5 274.75v2.8M202.5 54.95v2.8M239.5 274.75v2.8M239.5 54.95v2.8M277.5 274.75v2.8M277.5 54.95v2.8M67.15 254.5h-2.8M283.55 254.5h-2.8M67.15 216.5h-2.8M283.55 216.5h-2.8M67.15 177.5h-2.8M283.55 177.5h-2.8M67.15 139.5h-2.8M283.55 139.5h-2.8M67.15 100.5h-2.8M283.55 100.5h-2.8M67.15 62.5h-2.8M283.55 62.5h-2.8" stroke="#555" stroke-width="0.9" fill="none"/>
<g font-size="16.0" stroke="#000" stroke-width="0.45"><text x="89.5" y="291.2" text-anchor="middle" textLength="33.62" lengthAdjust="spacingAndGlyphs">100</text><text x="127.04" y="291.2" text-anchor="middle" textLength="33.62" lengthAdjust="spacingAndGlyphs">200</text><text x="164.58" y="291.2" text-anchor="middle" textLength="33.62" lengthAdjust="spacingAndGlyphs">300</text><text x="202.12" y="291.2" text-anchor="middle" textLength="33.62" lengthAdjust="spacingAndGlyphs">400</text><text x="239.66" y="291.2" text-anchor="middle" textLength="33.62" lengthAdjust="spacingAndGlyphs">500</text><text x="277.2" y="291.2" text-anchor="middle" textLength="33.62" lengthAdjust="spacingAndGlyphs">600</text><text x="62.7" y="261.2" text-anchor="end" textLength="33.62" lengthAdjust="spacingAndGlyphs">100</text><text x="62.7" y="222.64" text-anchor="end" textLength="33.62" lengthAdjust="spacingAndGlyphs">200</text><text x="62.7" y="184.08" text-anchor="end" textLength="33.62" lengthAdjust="spacingAndGlyphs">300</text><text x="62.7" y="145.52" text-anchor="end" textLength="33.62" lengthAdjust="spacingAndGlyphs">400</text><text x="62.7" y="106.96" text-anchor="end" textLength="33.62" lengthAdjust="spacingAndGlyphs">500</text><text x="62.7" y="68.4" text-anchor="end" textLength="33.62" lengthAdjust="spacingAndGlyphs">600</text></g>
<text stroke="#000" stroke-width="0.3" x="59.2" y="310.1" font-size="17.2" textLength="226.6" lengthAdjust="spacingAndGlyphs">Exp. C<tspan font-style="italic" font-weight="normal" font-size="11" dy="3">P</tspan><tspan dy="-3"> at 25 </tspan><tspan font-style="italic" font-weight="normal" font-size="11.5" dy="-6.5">o</tspan><tspan dy="6.5">C (J/mol·K)</tspan></text>
<text stroke="#000" stroke-width="0.3" transform="translate(22.8 284.5) rotate(-90)" x="0" y="0" font-size="17.2" textLength="234.1" lengthAdjust="spacingAndGlyphs">Pred. C<tspan font-style="italic" font-weight="normal" font-size="11" dy="3">P</tspan><tspan dy="-3"> at 25 </tspan><tspan font-style="italic" font-weight="normal" font-size="11.5" dy="-6.5">o</tspan><tspan dy="6.5">C (J/mol·K)</tspan></text>
<text x="-0.95" y="30" font-size="42" textLength="34.72" lengthAdjust="spacingAndGlyphs">a.</text>
<text x="76.76" y="81" font-size="23.6" textLength="127.59" lengthAdjust="spacingAndGlyphs">training set</text>
<text x="187.77" y="215.5" font-size="20.7" textLength="13.65" lengthAdjust="spacingAndGlyphs">R</text>
<text x="202.47" y="209" font-size="12.6" textLength="8.07" lengthAdjust="spacingAndGlyphs" font-weight="normal">2</text>
<text x="210.74" y="215.5" font-size="20.7" textLength="64.36" lengthAdjust="spacingAndGlyphs">: 0.993</text>
<text x="221.4" y="240" font-size="20.7" textLength="55.06" lengthAdjust="spacingAndGlyphs">MAE:</text>
<text x="143.09" y="264.6" font-size="20.7" textLength="131.46" lengthAdjust="spacingAndGlyphs">5.779 J/mol·K</text>
<clipPath id="clipb"><rect x="428" y="62" width="209" height="212"/></clipPath>
<g clip-path="url(#clipb)"><circle cx="577" cy="112" r="3.3" fill="#08306b"/><circle cx="627.4" cy="84" r="3.3" fill="#083370"/><circle cx="598" cy="116" r="3.3" fill="#083471"/><circle cx="608" cy="92.6" r="3.3" fill="#083877"/><circle cx="493.2" cy="223.5" r="3.3" fill="#084184"/><circle cx="501.4" cy="211.7" r="3.3" fill="#1561a9"/><circle cx="566.6" cy="133.6" r="3.3" fill="#1b69af"/><circle cx="442.3" cy="246.9" r="3.3" fill="#1d6cb1"/><circle cx="553.7" cy="143.4" r="3.3" fill="#2373b6"/><circle cx="513.9" cy="177.6" r="3.3" fill="#2b7bba"/><circle cx="464.2" cy="245.3" r="3.3" fill="#3b8bc2"/><circle cx="532.9" cy="174.2" r="3.3" fill="#3b8bc2"/><circle cx="440.8" cy="264.9" r="3.3" fill="#4594c7"/><circle cx="543.5" cy="160.5" r="3.3" fill="#4d99ca"/><circle cx="451.8" cy="255.4" r="3.3" fill="#4e9acb"/><circle cx="465.7" cy="225.4" r="3.3" fill="#5aa2cf"/><circle cx="541" cy="161.8" r="3.3" fill="#5fa6d1"/><circle cx="489.2" cy="202.6" r="3.3" fill="#60a7d2"/><circle cx="494.5" cy="213.6" r="3.3" fill="#68acd5"/><circle cx="501.7" cy="206" r="3.3" fill="#68acd5"/><circle cx="468.9" cy="238.3" r="3.3" fill="#79b5d9"/><circle cx="487.9" cy="219.7" r="3.3" fill="#7ab6d9"/><circle cx="526.4" cy="178" r="3.3" fill="#7cb7da"/><circle cx="516.4" cy="178.9" r="3.3" fill="#81badb"/><circle cx="437.6" cy="260.5" r="3.3" fill="#c6dbef"/><circle cx="457.5" cy="235.8" r="3.3" fill="#d0e1f2"/><circle cx="449" cy="245.3" r="3.3" fill="#9ac8e0"/><circle cx="444.2" cy="257.7" r="3.3" fill="#c6dbef"/><circle cx="445.2" cy="250.1" r="3.3" fill="#c6dbef"/><circle cx="526.8" cy="172.6" r="3.3" fill="#9fcae1"/><circle cx="464.2" cy="229.2" r="3.3" fill="#a6cee4"/><circle cx="497.4" cy="196.9" r="3.3" fill="#a8cee4"/><circle cx="509.7" cy="186" r="3.3" fill="#a8cee4"/><circle cx="461.4" cy="243.1" r="3.3" fill="#c6dbef"/><circle cx="521.1" cy="179.9" r="3.3" fill="#b8d5ea"/><circle cx="478.4" cy="226.4" r="3.3" fill="#c2d9ee"/><circle cx="509.7" cy="192.8" r="3.3" fill="#caddf0"/><circle cx="451.2" cy="248.6" r="3.3" fill="#cde0f1"/><circle cx="513.5" cy="187.1" r="3.3" fill="#cde0f1"/><circle cx="454.7" cy="244.4" r="3.3" fill="#d8e7f5"/><circle cx="458.5" cy="242.5" r="3.3" fill="#d8e7f5"/><circle cx="501.2" cy="196.6" r="3.3" fill="#dceaf6"/><circle cx="473.7" cy="222.6" r="3.3" fill="#e3eef9"/><circle cx="490.7" cy="206.4" r="3.3" fill="#e5eff9"/><circle cx="462.3" cy="236.8" r="3.3" fill="#e8f1fa"/><circle cx="468" cy="233" r="3.3" fill="#e8f1fa"/><circle cx="472.7" cy="228.3" r="3.3" fill="#eef5fc"/><circle cx="494.5" cy="205.5" r="3.3" fill="#eef5fc"/><circle cx="485" cy="214" r="3.3" fill="#f6faff"/><circle cx="477.4" cy="221.6" r="3.3" fill="#f7fbff"/><circle cx="481.2" cy="217.8" r="3.3" fill="#f7fbff"/><circle cx="478.2" cy="220.8" r="3.3" fill="#f7fbff"/></g>
<g fill="#A5DAF0" stroke="#111" stroke-width="0.8"><rect x="436.9" y="33.7" width="17.35" height="20.5"/><rect x="454.25" y="19.5" width="17.35" height="34.7"/><rect x="471.6" y="21.4" width="17.35" height="32.8"/><rect x="488.95" y="26.1" width="17.35" height="28.1"/><rect x="506.3" y="38.7" width="17.35" height="15.5"/><rect x="523.65" y="46.6" width="17.35" height="7.6"/><rect x="541" y="51.3" width="17.35" height="2.9"/><rect x="558.35" y="53.5" width="17.35" height="0.7"/><rect x="575.7" y="53.5" width="17.35" height="0.7"/><rect x="593.05" y="51.3" width="17.35" height="2.9"/><rect x="610.4" y="53.5" width="17.35" height="0.7"/><rect x="643.8" y="83.9" width="3" height="16.48"/><rect x="643.8" y="100.38" width="3" height="16.48"/><rect x="643.8" y="133.33" width="2.8" height="16.48"/><rect x="643.8" y="149.8" width="2.1" height="16.48"/><rect x="643.8" y="166.28" width="10.9" height="16.48"/><rect x="643.8" y="182.75" width="15.1" height="16.48"/><rect x="643.8" y="199.23" width="24.1" height="16.48"/><rect x="643.8" y="215.7" width="34.5" height="16.48"/><rect x="643.8" y="232.18" width="32.9" height="16.48"/><rect x="643.8" y="248.65" width="15.1" height="16.48"/></g>
<g stroke="#000" stroke-width="1.5" fill="none" stroke-linecap="butt" stroke-linejoin="miter">
<path d="M428 62V274H637"/>
<path d="M428 54.2H637"/>
<path d="M643.8 62V274"/>
</g>
<path d="M431.5 274.75v2.8M431.5 54.95v2.8M472.5 274.75v2.8M472.5 54.95v2.8M513.5 274.75v2.8M513.5 54.95v2.8M554.5 274.75v2.8M554.5 54.95v2.8M595.5 274.75v2.8M595.5 54.95v2.8M636.5 274.75v2.8M636.5 54.95v2.8M427.25 268.5h-2.8M643.05 268.5h-2.8M427.25 227.5h-2.8M643.05 227.5h-2.8M427.25 185.5h-2.8M643.05 185.5h-2.8M427.25 144.5h-2.8M643.05 144.5h-2.8M427.25 103.5h-2.8M643.05 103.5h-2.8M427.25 62.5h-2.8M643.05 62.5h-2.8" stroke="#555" stroke-width="0.9" fill="none"/>
<g font-size="16.0" stroke="#000" stroke-width="0.45"><text x="431.6" y="291.2" text-anchor="middle" textLength="33.62" lengthAdjust="spacingAndGlyphs">100</text><text x="472.6" y="291.2" text-anchor="middle" textLength="33.62" lengthAdjust="spacingAndGlyphs">200</text><text x="513.6" y="291.2" text-anchor="middle" textLength="33.62" lengthAdjust="spacingAndGlyphs">300</text><text x="554.6" y="291.2" text-anchor="middle" textLength="33.62" lengthAdjust="spacingAndGlyphs">400</text><text x="595.6" y="291.2" text-anchor="middle" textLength="33.62" lengthAdjust="spacingAndGlyphs">500</text><text x="636.6" y="291.2" text-anchor="middle" textLength="33.62" lengthAdjust="spacingAndGlyphs">600</text><text x="422.6" y="274.9" text-anchor="end" textLength="33.62" lengthAdjust="spacingAndGlyphs">100</text><text x="422.6" y="233.58" text-anchor="end" textLength="33.62" lengthAdjust="spacingAndGlyphs">200</text><text x="422.6" y="192.26" text-anchor="end" textLength="33.62" lengthAdjust="spacingAndGlyphs">300</text><text x="422.6" y="150.94" text-anchor="end" textLength="33.62" lengthAdjust="spacingAndGlyphs">400</text><text x="422.6" y="109.62" text-anchor="end" textLength="33.62" lengthAdjust="spacingAndGlyphs">500</text><text x="422.6" y="68.3" text-anchor="end" textLength="33.62" lengthAdjust="spacingAndGlyphs">600</text></g>
<text stroke="#000" stroke-width="0.3" x="418.7" y="309.8" font-size="17.2" textLength="227.6" lengthAdjust="spacingAndGlyphs">Exp. C<tspan font-style="italic" font-weight="normal" font-size="11" dy="3">P</tspan><tspan dy="-3"> at 25 </tspan><tspan font-style="italic" font-weight="normal" font-size="11.5" dy="-6.5">o</tspan><tspan dy="6.5">C (J/mol·K)</tspan></text>
<text stroke="#000" stroke-width="0.3" transform="translate(382.2 285.1) rotate(-90)" x="0" y="0" font-size="17.2" textLength="234.6" lengthAdjust="spacingAndGlyphs">Pred. C<tspan font-style="italic" font-weight="normal" font-size="11" dy="3">P</tspan><tspan dy="-3"> at 25 </tspan><tspan font-style="italic" font-weight="normal" font-size="11.5" dy="-6.5">o</tspan><tspan dy="6.5">C (J/mol·K)</tspan></text>
<text x="354.25" y="30" font-size="42" textLength="37.67" lengthAdjust="spacingAndGlyphs">b.</text>
<text x="437.67" y="83.5" font-size="23.6" textLength="81.91" lengthAdjust="spacingAndGlyphs">test set</text>
<text x="546.77" y="215.5" font-size="20.7" textLength="13.65" lengthAdjust="spacingAndGlyphs">R</text>
<text x="561.47" y="209" font-size="12.6" textLength="8.07" lengthAdjust="spacingAndGlyphs" font-weight="normal">2</text>
<text x="569.73" y="215.5" font-size="20.7" textLength="64.46" lengthAdjust="spacingAndGlyphs">: 0.982</text>
<text x="580.81" y="240" font-size="20.7" textLength="54.63" lengthAdjust="spacingAndGlyphs">MAE:</text>
<text x="501.89" y="264.6" font-size="20.7" textLength="131.66" lengthAdjust="spacingAndGlyphs">8.794 J/mol·K</text>
<clipPath id="clipc"><rect x="71.2" y="405.8" width="206.4" height="208.8"/></clipPath>
<g clip-path="url(#clipc)"><circle cx="141.87" cy="541.71" r="3.2" fill="#8e2d04"/><circle cx="144.3" cy="538.16" r="3.2" fill="#993103"/><circle cx="214.38" cy="462.09" r="3.2" fill="#973003"/><circle cx="169.46" cy="510.98" r="3.2" fill="#a63603"/><circle cx="132.47" cy="550.71" r="3.2" fill="#9a3103"/><circle cx="188.98" cy="474.72" r="3.2" fill="#932f03"/><circle cx="231" cy="443.3" r="3.2" fill="#852904"/><circle cx="96" cy="589" r="3.2" fill="#a13403"/><circle cx="218" cy="455" r="3.2" fill="#c14002"/><circle cx="93" cy="590" r="3.2" fill="#a03403"/><circle cx="199.17" cy="476.67" r="3.2" fill="#9c3203"/><circle cx="129.18" cy="552.47" r="3.2" fill="#b63c02"/><circle cx="129.31" cy="551.48" r="3.2" fill="#b83c02"/><circle cx="160.79" cy="507.6" r="3.2" fill="#973003"/><circle cx="205.23" cy="462.86" r="3.2" fill="#d54601"/><circle cx="180.04" cy="486.15" r="3.2" fill="#a23503"/><circle cx="235" cy="437" r="3.2" fill="#ae3903"/><circle cx="144.19" cy="525.92" r="3.2" fill="#8c2c04"/><circle cx="129.8" cy="547.5" r="3.2" fill="#b13a03"/><circle cx="191.16" cy="475.51" r="3.2" fill="#db4b03"/><circle cx="167.17" cy="512.16" r="3.2" fill="#dc4c03"/><circle cx="116" cy="567.5" r="3.2" fill="#a23503"/><circle cx="200.52" cy="463.18" r="3.2" fill="#8b2c04"/><circle cx="217.69" cy="449.09" r="3.2" fill="#912e04"/><circle cx="240" cy="430.5" r="3.2" fill="#a83703"/><circle cx="229.4" cy="430" r="3.2" fill="#832804"/><circle cx="134.74" cy="542.67" r="3.2" fill="#d34601"/><circle cx="195.54" cy="474.24" r="3.2" fill="#f26b15"/><circle cx="179.88" cy="488.22" r="3.2" fill="#e65a0b"/><circle cx="150.07" cy="529.44" r="3.2" fill="#e75b0b"/><circle cx="156.98" cy="523.14" r="3.2" fill="#d14501"/><circle cx="190.56" cy="483.64" r="3.2" fill="#e05206"/><circle cx="136.09" cy="544.3" r="3.2" fill="#c94202"/><circle cx="191.87" cy="482.98" r="3.2" fill="#c34002"/><circle cx="117.5" cy="563" r="3.2" fill="#a23503"/><circle cx="164.43" cy="515.17" r="3.2" fill="#dc4c03"/><circle cx="192.18" cy="479.28" r="3.2" fill="#f57520"/><circle cx="107.4" cy="573" r="3.2" fill="#a23503"/><circle cx="243.2" cy="441.8" r="3.2" fill="#802704"/><circle cx="233" cy="432" r="3.2" fill="#9c3203"/><circle cx="160.3" cy="509.03" r="3.2" fill="#a63603"/><circle cx="190.12" cy="477.69" r="3.2" fill="#f3701b"/><circle cx="183.01" cy="494.69" r="3.2" fill="#ab3803"/><circle cx="208.75" cy="469.14" r="3.2" fill="#892b04"/><circle cx="212.67" cy="459.53" r="3.2" fill="#d04501"/><circle cx="205.37" cy="459.58" r="3.2" fill="#912e04"/><circle cx="178.65" cy="498.25" r="3.2" fill="#f4721e"/><circle cx="127.49" cy="559.29" r="3.2" fill="#882a04"/><circle cx="171.84" cy="506.44" r="3.2" fill="#ec620f"/><circle cx="162.96" cy="507.95" r="3.2" fill="#f06712"/><circle cx="159.75" cy="522.35" r="3.2" fill="#963003"/><circle cx="134.35" cy="541.29" r="3.2" fill="#cb4302"/><circle cx="130.45" cy="548.4" r="3.2" fill="#be3f02"/><circle cx="143.68" cy="536.14" r="3.2" fill="#df5106"/><circle cx="246.3" cy="425" r="3.2" fill="#8c2c04"/><circle cx="203.17" cy="468.95" r="3.2" fill="#e15407"/><circle cx="236" cy="431" r="3.2" fill="#9e3303"/><circle cx="132.16" cy="547.73" r="3.2" fill="#c64102"/><circle cx="163.32" cy="506.88" r="3.2" fill="#dc4c03"/><circle cx="162.49" cy="509.29" r="3.2" fill="#fd8e3d"/><circle cx="199.98" cy="463.72" r="3.2" fill="#8b2c04"/><circle cx="202.56" cy="469.25" r="3.2" fill="#e35608"/><circle cx="154.73" cy="520.13" r="3.2" fill="#fc8b3a"/><circle cx="201.7" cy="473.41" r="3.2" fill="#a63603"/><circle cx="166.89" cy="503.71" r="3.2" fill="#f57622"/><circle cx="152.15" cy="524.52" r="3.2" fill="#f98230"/><circle cx="205.87" cy="459.37" r="3.2" fill="#942f03"/><circle cx="167.57" cy="500.08" r="3.2" fill="#9c3203"/><circle cx="144.63" cy="532.83" r="3.2" fill="#ee6511"/><circle cx="166.59" cy="511.83" r="3.2" fill="#f67925"/><circle cx="204.3" cy="467.15" r="3.2" fill="#e05206"/><circle cx="190.46" cy="480.33" r="3.2" fill="#f98230"/><circle cx="133" cy="546" r="3.2" fill="#cb4302"/><circle cx="149.96" cy="520.79" r="3.2" fill="#a03403"/><circle cx="160.81" cy="510.18" r="3.2" fill="#e65a0b"/><circle cx="147.54" cy="530.26" r="3.2" fill="#f36f1a"/><circle cx="189.61" cy="485.42" r="3.2" fill="#c64102"/><circle cx="152.04" cy="530.85" r="3.2" fill="#902e04"/><circle cx="133.62" cy="544.55" r="3.2" fill="#ce4401"/><circle cx="137.07" cy="539.48" r="3.2" fill="#db4b03"/><circle cx="125.2" cy="558.3" r="3.2" fill="#a43503"/><circle cx="185.59" cy="480.85" r="3.2" fill="#ce4401"/><circle cx="186.61" cy="482.78" r="3.2" fill="#fd9b50"/><circle cx="148.77" cy="526.95" r="3.2" fill="#f57520"/><circle cx="206.23" cy="464.71" r="3.2" fill="#dd4d04"/><circle cx="154.19" cy="521.18" r="3.2" fill="#fc8a39"/><circle cx="213.06" cy="462.34" r="3.2" fill="#a83703"/><circle cx="175.94" cy="501.63" r="3.2" fill="#f26d17"/><circle cx="221.7" cy="455.6" r="3.2" fill="#852904"/><circle cx="178.29" cy="489.38" r="3.2" fill="#c64102"/><circle cx="200.75" cy="468.13" r="3.2" fill="#e65a0b"/><circle cx="198.16" cy="475.83" r="3.2" fill="#d54601"/><circle cx="202.33" cy="462.34" r="3.2" fill="#932f03"/><circle cx="145.07" cy="529.22" r="3.2" fill="#e75c0c"/><circle cx="222.59" cy="450.4" r="3.2" fill="#ab3803"/><circle cx="161.7" cy="520.2" r="3.2" fill="#993103"/><circle cx="214" cy="454" r="3.2" fill="#ad3803"/><circle cx="149.45" cy="528.27" r="3.2" fill="#f57622"/><circle cx="187.66" cy="482.89" r="3.2" fill="#fd974a"/><circle cx="99" cy="591" r="3.2" fill="#832804"/><circle cx="136" cy="544.5" r="3.2" fill="#c84202"/><circle cx="163.59" cy="507.05" r="3.2" fill="#eb600e"/><circle cx="165.24" cy="503.81" r="3.2" fill="#b83c02"/><circle cx="196.26" cy="472.05" r="3.2" fill="#ec620f"/><circle cx="174.07" cy="506.41" r="3.2" fill="#9c3203"/><circle cx="132.94" cy="548.66" r="3.2" fill="#b53b02"/><circle cx="138.71" cy="537.97" r="3.2" fill="#df5106"/><circle cx="178.6" cy="494.02" r="3.2" fill="#fdce9e"/><circle cx="151.17" cy="526.33" r="3.2" fill="#f87d29"/><circle cx="153.01" cy="518.57" r="3.2" fill="#c94202"/><circle cx="149.05" cy="526.42" r="3.2" fill="#f57622"/><circle cx="191.51" cy="479.71" r="3.2" fill="#f67925"/><circle cx="168.95" cy="499.71" r="3.2" fill="#b93d02"/><circle cx="204.97" cy="466.04" r="3.2" fill="#de5005"/><circle cx="207.23" cy="461.33" r="3.2" fill="#d54601"/><circle cx="206.28" cy="462.73" r="3.2" fill="#db4b03"/><circle cx="184.2" cy="489.56" r="3.2" fill="#fda25a"/><circle cx="159.43" cy="509.09" r="3.2" fill="#963003"/><circle cx="150.62" cy="527.93" r="3.2" fill="#f4711c"/><circle cx="179.82" cy="497.47" r="3.2" fill="#e15407"/><circle cx="161.5" cy="513.55" r="3.2" fill="#fdb678"/><circle cx="128.11" cy="552.74" r="3.2" fill="#b33b02"/><circle cx="138.19" cy="536.75" r="3.2" fill="#d84801"/><circle cx="184.22" cy="488.3" r="3.2" fill="#fdaf6c"/><circle cx="187.67" cy="482.06" r="3.2" fill="#fd9649"/><circle cx="209.48" cy="457.43" r="3.2" fill="#a53603"/><circle cx="193.99" cy="480.1" r="3.2" fill="#db4a02"/><circle cx="171.78" cy="500.98" r="3.2" fill="#fdcd9c"/><circle cx="267.7" cy="414.8" r="3.2" fill="#9f3303"/><circle cx="193.26" cy="476.53" r="3.2" fill="#f4711c"/><circle cx="178.49" cy="489.33" r="3.2" fill="#d04501"/><circle cx="196.29" cy="475.17" r="3.2" fill="#f16813"/><circle cx="144.53" cy="532.05" r="3.2" fill="#ee6511"/><circle cx="184.85" cy="486.9" r="3.2" fill="#fdab66"/><circle cx="201.48" cy="466.65" r="3.2" fill="#e05206"/><circle cx="141.59" cy="538.26" r="3.2" fill="#dd4d04"/><circle cx="175.7" cy="498.54" r="3.2" fill="#fdce9e"/><circle cx="182.94" cy="492.04" r="3.2" fill="#fd8f3e"/><circle cx="166.66" cy="507.53" r="3.2" fill="#fdce9e"/><circle cx="166.83" cy="510.47" r="3.2" fill="#fdae6a"/><circle cx="159.58" cy="516.35" r="3.2" fill="#fdab66"/><circle cx="171.58" cy="505.73" r="3.2" fill="#fd9649"/><circle cx="171.63" cy="506.12" r="3.2" fill="#f87e2b"/><circle cx="244.7" cy="431" r="3.2" fill="#ab3803"/><circle cx="249" cy="426.5" r="3.2" fill="#a83703"/><circle cx="153.86" cy="518.54" r="3.2" fill="#e75c0c"/><circle cx="177.26" cy="499.95" r="3.2" fill="#f57520"/><circle cx="82.9" cy="593.5" r="3.2" fill="#9b3203"/><circle cx="211.65" cy="460.03" r="3.2" fill="#d34601"/><circle cx="167.91" cy="499.7" r="3.2" fill="#9c3203"/><circle cx="147.81" cy="534.36" r="3.2" fill="#9c3203"/><circle cx="176.02" cy="498.33" r="3.2" fill="#fdce9e"/><circle cx="219.41" cy="451.17" r="3.2" fill="#be3f02"/><circle cx="220.72" cy="450.96" r="3.2" fill="#bb3d02"/><circle cx="139.89" cy="536.32" r="3.2" fill="#e25508"/><circle cx="175.76" cy="497.05" r="3.2" fill="#fdce9e"/><circle cx="178.96" cy="498.62" r="3.2" fill="#df5106"/><circle cx="146.41" cy="531.18" r="3.2" fill="#f26c16"/><circle cx="170.73" cy="501.3" r="3.2" fill="#fdc38d"/><circle cx="165.88" cy="509.04" r="3.2" fill="#fdce9e"/><circle cx="139.42" cy="537.53" r="3.2" fill="#e15407"/><circle cx="182.74" cy="485.85" r="3.2" fill="#fb8836"/><circle cx="170.36" cy="499.56" r="3.2" fill="#f06712"/><circle cx="161.81" cy="507.47" r="3.2" fill="#ad3803"/><circle cx="175.59" cy="499.6" r="3.2" fill="#fdc895"/><circle cx="199.97" cy="467.02" r="3.2" fill="#ce4401"/><circle cx="150.91" cy="521.48" r="3.2" fill="#dc4c03"/><circle cx="157.92" cy="521.07" r="3.2" fill="#f26c16"/><circle cx="167.64" cy="505.08" r="3.2" fill="#fdc895"/><circle cx="177.36" cy="492.67" r="3.2" fill="#fd9b50"/><circle cx="197.6" cy="471.33" r="3.2" fill="#ed6310"/><circle cx="150.9" cy="524.3" r="3.2" fill="#f87d29"/><circle cx="188.58" cy="480.92" r="3.2" fill="#fd9040"/><circle cx="164.2" cy="507.38" r="3.2" fill="#fd9547"/><circle cx="172.82" cy="499.21" r="3.2" fill="#fdc794"/><circle cx="172.42" cy="500.76" r="3.2" fill="#fdce9e"/><circle cx="202.21" cy="466.72" r="3.2" fill="#e35608"/><circle cx="177.3" cy="496.04" r="3.2" fill="#fdce9e"/><circle cx="176.19" cy="501.22" r="3.2" fill="#f5741f"/><circle cx="181.12" cy="489.64" r="3.2" fill="#fdc28b"/><circle cx="170.96" cy="505.16" r="3.2" fill="#fdc28b"/><circle cx="177.4" cy="496.88" r="3.2" fill="#fdcd9c"/><circle cx="189.71" cy="480.65" r="3.2" fill="#fb8836"/><circle cx="146.63" cy="533.05" r="3.2" fill="#e35608"/><circle cx="146.25" cy="533.99" r="3.2" fill="#d94801"/><circle cx="189.22" cy="481.81" r="3.2" fill="#fc8b3a"/><circle cx="193.35" cy="477.83" r="3.2" fill="#f4711c"/><circle cx="175.31" cy="495.95" r="3.2" fill="#fdbd83"/><circle cx="174.12" cy="498.29" r="3.2" fill="#fdcb9b"/><circle cx="177.99" cy="495.48" r="3.2" fill="#fdce9e"/><circle cx="174.55" cy="497.61" r="3.2" fill="#fdca99"/><circle cx="159.98" cy="512.29" r="3.2" fill="#fc8a39"/><circle cx="179.69" cy="495.57" r="3.2" fill="#fdb475"/><circle cx="202.54" cy="467.38" r="3.2" fill="#e45709"/><circle cx="169.73" cy="507.05" r="3.2" fill="#fdb475"/><circle cx="157.76" cy="520.5" r="3.2" fill="#fb8735"/><circle cx="179.58" cy="490.43" r="3.2" fill="#fdb170"/><circle cx="175.96" cy="501.78" r="3.2" fill="#ee6511"/><circle cx="172.1" cy="498.76" r="3.2" fill="#fda159"/><circle cx="179.47" cy="496.32" r="3.2" fill="#fda159"/><circle cx="170.71" cy="504.36" r="3.2" fill="#fdcd9c"/><circle cx="192.17" cy="478.27" r="3.2" fill="#f57622"/><circle cx="171.18" cy="502.87" r="3.2" fill="#fdce9e"/><circle cx="177.69" cy="494.78" r="3.2" fill="#fdce9e"/><circle cx="185.16" cy="484.01" r="3.2" fill="#fd9e54"/><circle cx="163.8" cy="507.44" r="3.2" fill="#f9802d"/><circle cx="152.55" cy="521.96" r="3.2" fill="#f9812e"/><circle cx="160.49" cy="511.51" r="3.2" fill="#fa8532"/><circle cx="173.61" cy="499.28" r="3.2" fill="#fdce9e"/><circle cx="187.32" cy="483.36" r="3.2" fill="#fd994d"/><circle cx="175.54" cy="500.93" r="3.2" fill="#fda660"/><circle cx="178.01" cy="495.2" r="3.2" fill="#fdce9e"/><circle cx="189.42" cy="478.88" r="3.2" fill="#f9802d"/><circle cx="179.75" cy="492.96" r="3.2" fill="#fdce9e"/><circle cx="159.51" cy="513.93" r="3.2" fill="#fda35c"/><circle cx="171.43" cy="502.97" r="3.2" fill="#fdce9e"/><circle cx="151.49" cy="524.15" r="3.2" fill="#f87f2c"/><circle cx="167.47" cy="505.49" r="3.2" fill="#fdca99"/><circle cx="157.24" cy="518.17" r="3.2" fill="#fd9b50"/><circle cx="189.39" cy="479.26" r="3.2" fill="#fa8532"/><circle cx="166.77" cy="508.13" r="3.2" fill="#fdce9e"/><circle cx="166.16" cy="505.56" r="3.2" fill="#fda965"/><circle cx="165" cy="510.37" r="3.2" fill="#fdce9e"/><circle cx="161.83" cy="512.77" r="3.2" fill="#fdb87c"/><circle cx="177.57" cy="496.02" r="3.2" fill="#fdce9e"/><circle cx="184.03" cy="488.38" r="3.2" fill="#fdb06e"/><circle cx="160.8" cy="516.74" r="3.2" fill="#fda35c"/><circle cx="176.77" cy="498.22" r="3.2" fill="#fdc997"/><circle cx="176.25" cy="494.61" r="3.2" fill="#fdb475"/><circle cx="160.7" cy="514.67" r="3.2" fill="#fdb271"/><circle cx="185.47" cy="484.66" r="3.2" fill="#fda55f"/><circle cx="185.09" cy="488.57" r="3.2" fill="#fd9b50"/><circle cx="175.88" cy="499.18" r="3.2" fill="#fdc997"/><circle cx="167.55" cy="504.07" r="3.2" fill="#fdac67"/><circle cx="168.12" cy="506.47" r="3.2" fill="#fdce9e"/><circle cx="178.57" cy="494.28" r="3.2" fill="#fdce9e"/><circle cx="174.23" cy="499.3" r="3.2" fill="#fdce9e"/><circle cx="176.75" cy="497.01" r="3.2" fill="#fdce9e"/></g>
<g fill="#FFA940" stroke="#111" stroke-width="0.8"><rect x="83.1" y="396.6" width="10.92" height="2"/><rect x="94.02" y="396.6" width="10.92" height="2"/><rect x="104.94" y="398" width="10.92" height="0.6"/><rect x="115.86" y="393.8" width="10.92" height="4.8"/><rect x="126.78" y="390.3" width="10.92" height="8.3"/><rect x="137.7" y="387.5" width="10.92" height="11.1"/><rect x="148.62" y="383.4" width="10.92" height="15.2"/><rect x="159.54" y="372.3" width="10.92" height="26.3"/><rect x="170.46" y="364.5" width="10.92" height="34.1"/><rect x="181.38" y="379" width="10.92" height="19.6"/><rect x="192.3" y="385.3" width="10.92" height="13.3"/><rect x="203.22" y="390.3" width="10.92" height="8.3"/><rect x="214.14" y="395.4" width="10.92" height="3.2"/><rect x="225.06" y="395.4" width="10.92" height="3.2"/><rect x="235.98" y="396.6" width="10.92" height="2"/><rect x="246.9" y="396.6" width="10.92" height="2"/><rect x="257.82" y="398" width="10.92" height="0.6"/><rect x="284.3" y="415.4" width="2.4" height="11.92"/><rect x="284.3" y="427.32" width="1.9" height="11.92"/><rect x="284.3" y="439.24" width="1.9" height="11.92"/><rect x="284.3" y="451.16" width="2.8" height="11.92"/><rect x="284.3" y="463.08" width="9.8" height="11.92"/><rect x="284.3" y="475" width="16.2" height="11.92"/><rect x="284.3" y="486.92" width="24.3" height="11.92"/><rect x="284.3" y="498.84" width="33.6" height="11.92"/><rect x="284.3" y="510.76" width="18.1" height="11.92"/><rect x="284.3" y="522.68" width="12.3" height="11.92"/><rect x="284.3" y="534.6" width="12.8" height="11.92"/><rect x="284.3" y="546.52" width="3.7" height="11.92"/><rect x="284.3" y="558.44" width="3.1" height="11.92"/><rect x="284.3" y="582.28" width="3.7" height="11.92"/></g>
<g stroke="#000" stroke-width="1.5" fill="none" stroke-linecap="butt" stroke-linejoin="miter">
<path d="M71.2 405.8V614.6H277.6"/>
<path d="M71.2 398.6H277.6"/>
<path d="M284.3 405.8V615"/>
</g>
<path d="M71.5 615.35v2.8M71.5 399.35v2.8M114.5 615.35v2.8M114.5 399.35v2.8M157.5 615.35v2.8M157.5 399.35v2.8M200.5 615.35v2.8M200.5 399.35v2.8M243.5 615.35v2.8M243.5 399.35v2.8M70.45 614.5h-2.8M283.55 614.5h-2.8M70.45 567.5h-2.8M283.55 567.5h-2.8M70.45 521.5h-2.8M283.55 521.5h-2.8M70.45 474.5h-2.8M283.55 474.5h-2.8M70.45 427.5h-2.8M283.55 427.5h-2.8" stroke="#555" stroke-width="0.9" fill="none"/>
<g font-size="16.0" stroke="#000" stroke-width="0.45"><text x="71.8" y="631.8" text-anchor="middle" textLength="39.73" lengthAdjust="spacingAndGlyphs">0.04</text><text x="114.8" y="631.8" text-anchor="middle" textLength="39.73" lengthAdjust="spacingAndGlyphs">0.08</text><text x="157.8" y="631.8" text-anchor="middle" textLength="39.73" lengthAdjust="spacingAndGlyphs">0.12</text><text x="200.8" y="631.8" text-anchor="middle" textLength="39.73" lengthAdjust="spacingAndGlyphs">0.16</text><text x="243.8" y="631.8" text-anchor="middle" textLength="39.73" lengthAdjust="spacingAndGlyphs">0.20</text><text x="66.8" y="620.9" text-anchor="end" textLength="39.73" lengthAdjust="spacingAndGlyphs">0.04</text><text x="66.8" y="574.18" text-anchor="end" textLength="39.73" lengthAdjust="spacingAndGlyphs">0.08</text><text x="66.8" y="527.46" text-anchor="end" textLength="39.73" lengthAdjust="spacingAndGlyphs">0.12</text><text x="66.8" y="480.74" text-anchor="end" textLength="39.73" lengthAdjust="spacingAndGlyphs">0.16</text><text x="66.8" y="434.02" text-anchor="end" textLength="39.73" lengthAdjust="spacingAndGlyphs">0.20</text></g>
<text stroke="#000" stroke-width="0.3" x="69.65" y="649.8" font-size="17.2" textLength="208.8" lengthAdjust="spacingAndGlyphs">Exp. <tspan font-style="italic" font-weight="normal">κ</tspan> at 25 <tspan font-style="italic" font-weight="normal" font-size="11.5" dy="-6.5">o</tspan><tspan dy="6.5">C (W/m·K)</tspan></text>
<text stroke="#000" stroke-width="0.3" transform="translate(21 618) rotate(-90)" x="0" y="0" font-size="17.2" textLength="217" lengthAdjust="spacingAndGlyphs">Pred. <tspan font-style="italic" font-weight="normal">κ</tspan> at 25 <tspan font-style="italic" font-weight="normal" font-size="11.5" dy="-6.5">o</tspan><tspan dy="6.5">C (W/m·K)</tspan></text>
<text x="-1.77" y="377" font-size="42" textLength="36.81" lengthAdjust="spacingAndGlyphs">c.</text>
<text x="76.66" y="427.2" font-size="23.6" textLength="127.59" lengthAdjust="spacingAndGlyphs">training set</text>
<text x="186.97" y="558.4" font-size="20.7" textLength="13.65" lengthAdjust="spacingAndGlyphs">R</text>
<text x="201.67" y="551.9" font-size="12.6" textLength="8.07" lengthAdjust="spacingAndGlyphs" font-weight="normal">2</text>
<text x="209.91" y="558.4" font-size="20.7" textLength="65.09" lengthAdjust="spacingAndGlyphs">: 0.989</text>
<text x="221.4" y="582.9" font-size="20.7" textLength="54.96" lengthAdjust="spacingAndGlyphs">MAE:</text>
<text x="128.98" y="607.4" font-size="20.7" textLength="145.51" lengthAdjust="spacingAndGlyphs">0.00214 W/m·K</text>
<clipPath id="clipd"><rect x="432.6" y="406.5" width="205.6" height="208.1"/></clipPath>
<g clip-path="url(#clipd)"><circle cx="571" cy="496.3" r="3.1" fill="#08306b"/><circle cx="622.3" cy="425.6" r="3.1" fill="#08316d"/><circle cx="608.5" cy="425.2" r="3.1" fill="#084285"/><circle cx="572.5" cy="460.7" r="3.1" fill="#115ca5"/><circle cx="452.6" cy="588.6" r="3.1" fill="#1967ad"/><circle cx="483.6" cy="547" r="3.1" fill="#1d6cb1"/><circle cx="557.2" cy="492.8" r="3.1" fill="#4292c6"/><circle cx="468" cy="582.4" r="3.1" fill="#4997c9"/><circle cx="511.2" cy="545.2" r="3.1" fill="#4292c6"/><circle cx="502" cy="531.4" r="3.1" fill="#68acd5"/><circle cx="477.4" cy="565.6" r="3.1" fill="#85bcdc"/><circle cx="546.9" cy="491.5" r="3.1" fill="#6baed6"/><circle cx="514" cy="541" r="3.1" fill="#e8f1fa"/><circle cx="483.6" cy="566.6" r="3.1" fill="#a6cee4"/><circle cx="504.2" cy="532.9" r="3.1" fill="#9ecae1"/><circle cx="533.1" cy="518.5" r="3.1" fill="#9ecae1"/><circle cx="533.4" cy="506.9" r="3.1" fill="#dae8f6"/><circle cx="533.8" cy="513.2" r="3.1" fill="#dceaf6"/><circle cx="527.9" cy="511.7" r="3.1" fill="#e0ecf8"/><circle cx="519.6" cy="519.8" r="3.1" fill="#e6f0f9"/><circle cx="512.6" cy="536.9" r="3.1" fill="#f1f7fd"/><circle cx="506.4" cy="540.1" r="3.1" fill="#f5fafe"/><circle cx="508" cy="538" r="3.1" fill="#eef5fc"/></g>
<g fill="#A5DAF0" stroke="#111" stroke-width="0.8"><rect x="452.7" y="391.6" width="24.25" height="7.6"/><rect x="476.95" y="386.5" width="24.25" height="12.7"/><rect x="501.2" y="365.4" width="24.25" height="33.8"/><rect x="525.45" y="378" width="24.25" height="21.2"/><rect x="549.7" y="386.5" width="24.25" height="12.7"/><rect x="598.2" y="391.6" width="24.25" height="7.6"/><rect x="644.8" y="425.1" width="11.5" height="27.27"/><rect x="644.8" y="452.37" width="5.3" height="27.27"/><rect x="644.8" y="479.64" width="22.6" height="27.27"/><rect x="644.8" y="506.91" width="33.5" height="27.27"/><rect x="644.8" y="534.18" width="33.5" height="27.27"/><rect x="644.8" y="561.45" width="22.6" height="27.27"/></g>
<g stroke="#000" stroke-width="1.5" fill="none" stroke-linecap="butt" stroke-linejoin="miter">
<path d="M432.6 406.5V614.6H638.2"/>
<path d="M432.6 399.2H638.2"/>
<path d="M644.8 406.8V615"/>
</g>
<path d="M432.5 615.35v2.8M432.5 399.95v2.8M484.5 615.35v2.8M484.5 399.95v2.8M535.5 615.35v2.8M535.5 399.95v2.8M586.5 615.35v2.8M586.5 399.95v2.8M638.5 615.35v2.8M638.5 399.95v2.8M431.85 614.5h-2.8M644.05 614.5h-2.8M431.85 562.5h-2.8M644.05 562.5h-2.8M431.85 510.5h-2.8M644.05 510.5h-2.8M431.85 458.5h-2.8M644.05 458.5h-2.8M431.85 407.5h-2.8M644.05 407.5h-2.8" stroke="#555" stroke-width="0.9" fill="none"/>
<g font-size="16.0" stroke="#000" stroke-width="0.45"><text x="432.6" y="631.8" text-anchor="middle" textLength="39.73" lengthAdjust="spacingAndGlyphs">0.08</text><text x="484" y="631.8" text-anchor="middle" textLength="39.73" lengthAdjust="spacingAndGlyphs">0.11</text><text x="535.4" y="631.8" text-anchor="middle" textLength="39.73" lengthAdjust="spacingAndGlyphs">0.14</text><text x="586.8" y="631.8" text-anchor="middle" textLength="39.73" lengthAdjust="spacingAndGlyphs">0.17</text><text x="638.2" y="631.8" text-anchor="middle" textLength="39.73" lengthAdjust="spacingAndGlyphs">0.20</text><text x="427.8" y="620.9" text-anchor="end" textLength="39.73" lengthAdjust="spacingAndGlyphs">0.08</text><text x="427.8" y="569" text-anchor="end" textLength="39.73" lengthAdjust="spacingAndGlyphs">0.11</text><text x="427.8" y="517.1" text-anchor="end" textLength="39.73" lengthAdjust="spacingAndGlyphs">0.14</text><text x="427.8" y="465.2" text-anchor="end" textLength="39.73" lengthAdjust="spacingAndGlyphs">0.17</text><text x="427.8" y="413.3" text-anchor="end" textLength="39.73" lengthAdjust="spacingAndGlyphs">0.20</text></g>
<text stroke="#000" stroke-width="0.3" x="431" y="649.8" font-size="17.2" textLength="208" lengthAdjust="spacingAndGlyphs">Exp. <tspan font-style="italic" font-weight="normal">κ</tspan> at 25 <tspan font-style="italic" font-weight="normal" font-size="11.5" dy="-6.5">o</tspan><tspan dy="6.5">C (W/m·K)</tspan></text>
<text stroke="#000" stroke-width="0.3" transform="translate(382.1 618.75) rotate(-90)" x="0" y="0" font-size="17.2" textLength="216.3" lengthAdjust="spacingAndGlyphs">Pred. <tspan font-style="italic" font-weight="normal">κ</tspan> at 25 <tspan font-style="italic" font-weight="normal" font-size="11.5" dy="-6.5">o</tspan><tspan dy="6.5">C (W/m·K)</tspan></text>
<text x="353.26" y="377" font-size="42" textLength="38.74" lengthAdjust="spacingAndGlyphs">d.</text>
<text x="441.77" y="427.4" font-size="23.6" textLength="81.91" lengthAdjust="spacingAndGlyphs">test set</text>
<text x="546.07" y="557.6" font-size="20.7" textLength="13.65" lengthAdjust="spacingAndGlyphs">R</text>
<text x="560.77" y="551.1" font-size="12.6" textLength="8.07" lengthAdjust="spacingAndGlyphs" font-weight="normal">2</text>
<text x="569.03" y="557.6" font-size="20.7" textLength="64.67" lengthAdjust="spacingAndGlyphs">: 0.958</text>
<text x="579.48" y="581.9" font-size="20.7" textLength="55.7" lengthAdjust="spacingAndGlyphs">MAE:</text>
<text x="488.08" y="607.1" font-size="20.7" textLength="145.2" lengthAdjust="spacingAndGlyphs">0.00388 W/m·K</text>
<clipPath id="clipe"><rect x="80.9" y="745" width="200.9" height="204.4"/></clipPath>
<g clip-path="url(#clipe)"><circle cx="89.6" cy="939.6" r="3.2" fill="#8f2d04"/><circle cx="136.9" cy="902" r="3.2" fill="#882a04"/><circle cx="194.1" cy="826.8" r="3.2" fill="#912e04"/><circle cx="261.71" cy="772.82" r="3.2" fill="#a23503"/><circle cx="268.5" cy="764" r="3.2" fill="#ad3803"/><circle cx="174.7" cy="845.2" r="3.2" fill="#9a3103"/><circle cx="235.37" cy="793.27" r="3.2" fill="#bd3e02"/><circle cx="120.21" cy="914.3" r="3.2" fill="#bb3d02"/><circle cx="146.1" cy="872.8" r="3.2" fill="#902e04"/><circle cx="263.5" cy="774.49" r="3.2" fill="#8a2b04"/><circle cx="218.19" cy="810.03" r="3.2" fill="#c94202"/><circle cx="131.8" cy="885" r="3.2" fill="#852904"/><circle cx="214.66" cy="809.64" r="3.2" fill="#b53b02"/><circle cx="220.03" cy="809.65" r="3.2" fill="#c54102"/><circle cx="221.7" cy="813.5" r="3.2" fill="#8e2d04"/><circle cx="231.04" cy="798.03" r="3.2" fill="#be3f02"/><circle cx="243.99" cy="777.37" r="3.2" fill="#892b04"/><circle cx="209.9" cy="815.19" r="3.2" fill="#ce4401"/><circle cx="229.14" cy="798.36" r="3.2" fill="#c03f02"/><circle cx="118.03" cy="916.86" r="3.2" fill="#b93d02"/><circle cx="253.32" cy="775.89" r="3.2" fill="#b53b02"/><circle cx="205.11" cy="821.35" r="3.2" fill="#e25508"/><circle cx="213.15" cy="811.54" r="3.2" fill="#c03f02"/><circle cx="222.99" cy="805.43" r="3.2" fill="#c34002"/><circle cx="271.82" cy="761.74" r="3.2" fill="#ab3803"/><circle cx="222.37" cy="808.68" r="3.2" fill="#be3f02"/><circle cx="270" cy="754.6" r="3.2" fill="#832804"/><circle cx="240.76" cy="787.87" r="3.2" fill="#b93d02"/><circle cx="104.43" cy="930.96" r="3.2" fill="#e25508"/><circle cx="214.35" cy="812.27" r="3.2" fill="#d34601"/><circle cx="215.19" cy="813.16" r="3.2" fill="#d34601"/><circle cx="177.8" cy="862.6" r="3.2" fill="#882a04"/><circle cx="221.71" cy="804.53" r="3.2" fill="#c03f02"/><circle cx="204.56" cy="826.41" r="3.2" fill="#e45709"/><circle cx="257.74" cy="778.02" r="3.2" fill="#8e2d04"/><circle cx="207.03" cy="822.21" r="3.2" fill="#e25508"/><circle cx="197.85" cy="827.85" r="3.2" fill="#eb600e"/><circle cx="221.98" cy="813.49" r="3.2" fill="#8b2c04"/><circle cx="225.94" cy="806.86" r="3.2" fill="#a53603"/><circle cx="228.08" cy="801.64" r="3.2" fill="#c03f02"/><circle cx="221.23" cy="807.52" r="3.2" fill="#c34002"/><circle cx="235.9" cy="789.03" r="3.2" fill="#ad3803"/><circle cx="236.08" cy="792.55" r="3.2" fill="#bd3e02"/><circle cx="266.23" cy="766.48" r="3.2" fill="#ae3903"/><circle cx="120.97" cy="902.9" r="3.2" fill="#de5005"/><circle cx="104.22" cy="931.15" r="3.2" fill="#e35608"/><circle cx="253.93" cy="771.68" r="3.2" fill="#ad3803"/><circle cx="249.88" cy="771.48" r="3.2" fill="#892b04"/><circle cx="202.71" cy="831.25" r="3.2" fill="#b53b02"/><circle cx="211.81" cy="816.44" r="3.2" fill="#db4a02"/><circle cx="233.68" cy="793.97" r="3.2" fill="#be3f02"/><circle cx="115" cy="892.6" r="3.2" fill="#7f2704"/><circle cx="240.81" cy="790.78" r="3.2" fill="#b13a03"/><circle cx="251.23" cy="778.34" r="3.2" fill="#b53b02"/><circle cx="166.1" cy="892.2" r="3.2" fill="#7f2704"/><circle cx="253.29" cy="774.8" r="3.2" fill="#b53b02"/><circle cx="266.4" cy="767.4" r="3.2" fill="#ad3803"/><circle cx="255.72" cy="772.12" r="3.2" fill="#b33b02"/><circle cx="208.4" cy="829.9" r="3.2" fill="#842904"/><circle cx="207.38" cy="818.29" r="3.2" fill="#db4a02"/><circle cx="249.25" cy="786.39" r="3.2" fill="#892b04"/><circle cx="241.54" cy="783.08" r="3.2" fill="#a63603"/><circle cx="261.86" cy="769.27" r="3.2" fill="#b03903"/><circle cx="236.74" cy="798.76" r="3.2" fill="#8a2b04"/><circle cx="111.96" cy="916.65" r="3.2" fill="#f87d29"/><circle cx="108.79" cy="921.89" r="3.2" fill="#f67925"/><circle cx="103.2" cy="923.9" r="3.2" fill="#d84801"/><circle cx="162.4" cy="880" r="3.2" fill="#832804"/><circle cx="251.51" cy="777.03" r="3.2" fill="#b53b02"/><circle cx="244.43" cy="782.01" r="3.2" fill="#b63c02"/><circle cx="215.1" cy="806.72" r="3.2" fill="#902e04"/><circle cx="272" cy="762" r="3.2" fill="#ab3803"/><circle cx="254.6" cy="773.81" r="3.2" fill="#b33b02"/><circle cx="214.7" cy="815.16" r="3.2" fill="#d54601"/><circle cx="221.76" cy="803.76" r="3.2" fill="#bb3d02"/><circle cx="261.08" cy="769.91" r="3.2" fill="#b03903"/><circle cx="197.58" cy="831.96" r="3.2" fill="#f67925"/><circle cx="125.33" cy="904.12" r="3.2" fill="#fd9243"/><circle cx="106.49" cy="919.89" r="3.2" fill="#d04501"/><circle cx="115.54" cy="916.45" r="3.2" fill="#f87d29"/><circle cx="118.29" cy="910.15" r="3.2" fill="#fb8836"/><circle cx="163.77" cy="870.43" r="3.2" fill="#ed6310"/><circle cx="215.39" cy="817.25" r="3.2" fill="#b33b02"/><circle cx="234.55" cy="796.69" r="3.2" fill="#b63c02"/><circle cx="271.19" cy="759.67" r="3.2" fill="#a83703"/><circle cx="112.02" cy="912.81" r="3.2" fill="#c14002"/><circle cx="196.5" cy="831.55" r="3.2" fill="#fa8331"/><circle cx="104.14" cy="924.39" r="3.2" fill="#ed6310"/><circle cx="195.16" cy="830.59" r="3.2" fill="#f4721e"/><circle cx="225.61" cy="801.96" r="3.2" fill="#c14002"/><circle cx="232.14" cy="796.74" r="3.2" fill="#be3f02"/><circle cx="160.18" cy="862.41" r="3.2" fill="#e95e0d"/><circle cx="207.17" cy="822.27" r="3.2" fill="#e15407"/><circle cx="114.7" cy="918.18" r="3.2" fill="#f3701b"/><circle cx="211.25" cy="819.09" r="3.2" fill="#db4a02"/><circle cx="120.53" cy="908.54" r="3.2" fill="#fd8c3b"/><circle cx="169.11" cy="865.16" r="3.2" fill="#ec620f"/><circle cx="121.8" cy="912.43" r="3.2" fill="#bd3e02"/><circle cx="231.33" cy="800.68" r="3.2" fill="#b03903"/><circle cx="210.1" cy="822.5" r="3.2" fill="#c14002"/><circle cx="109.4" cy="923.32" r="3.2" fill="#f57622"/><circle cx="121.26" cy="905.63" r="3.2" fill="#fc8b3a"/><circle cx="217.45" cy="810.2" r="3.2" fill="#cd4401"/><circle cx="146.78" cy="887.19" r="3.2" fill="#dd4d04"/><circle cx="121.59" cy="906.72" r="3.2" fill="#fd8e3d"/><circle cx="143.26" cy="879.54" r="3.2" fill="#e4580a"/><circle cx="106.67" cy="924.09" r="3.2" fill="#f57520"/><circle cx="121.32" cy="907.74" r="3.2" fill="#fd8e3d"/><circle cx="159.7" cy="862.89" r="3.2" fill="#e95e0d"/><circle cx="167.13" cy="855.55" r="3.2" fill="#ed6310"/><circle cx="109.06" cy="918.98" r="3.2" fill="#f3701b"/><circle cx="111.3" cy="919.06" r="3.2" fill="#f87d29"/><circle cx="178.76" cy="845.56" r="3.2" fill="#fd9243"/><circle cx="118.2" cy="910.95" r="3.2" fill="#fb8836"/><circle cx="127.24" cy="904.73" r="3.2" fill="#f16813"/><circle cx="128.87" cy="899.38" r="3.2" fill="#fd994d"/><circle cx="210.67" cy="819.8" r="3.2" fill="#db4b03"/><circle cx="106.3" cy="928.29" r="3.2" fill="#eb600e"/><circle cx="147.57" cy="885.29" r="3.2" fill="#f77b28"/><circle cx="154.98" cy="879.1" r="3.2" fill="#e4580a"/><circle cx="137.92" cy="890.63" r="3.2" fill="#fdb576"/><circle cx="210.08" cy="818.73" r="3.2" fill="#de4e05"/><circle cx="126.38" cy="896.81" r="3.2" fill="#e15407"/><circle cx="205.04" cy="822.93" r="3.2" fill="#e4580a"/><circle cx="186.49" cy="847.23" r="3.2" fill="#fc8b3a"/><circle cx="145.5" cy="884.41" r="3.2" fill="#fdcb9b"/><circle cx="194.55" cy="834.97" r="3.2" fill="#fd9649"/><circle cx="132.24" cy="894.92" r="3.2" fill="#fda159"/><circle cx="107.92" cy="923.36" r="3.2" fill="#f67723"/><circle cx="176.46" cy="856.1" r="3.2" fill="#fdc28b"/><circle cx="153.83" cy="879.05" r="3.2" fill="#fd8c3b"/><circle cx="191.99" cy="837.39" r="3.2" fill="#fdac67"/><circle cx="176.65" cy="848.41" r="3.2" fill="#fdc088"/><circle cx="168.75" cy="853.95" r="3.2" fill="#ec620f"/><circle cx="146.28" cy="880.64" r="3.2" fill="#fdd1a3"/><circle cx="129.82" cy="898.07" r="3.2" fill="#fd9a4e"/><circle cx="151.15" cy="880.68" r="3.2" fill="#fdb475"/><circle cx="144.11" cy="888.04" r="3.2" fill="#fd9243"/><circle cx="195.69" cy="832.74" r="3.2" fill="#fc8b3a"/><circle cx="126.23" cy="900.67" r="3.2" fill="#fd9547"/><circle cx="161.9" cy="863.11" r="3.2" fill="#fdd7b1"/><circle cx="165.24" cy="867.89" r="3.2" fill="#fd9d53"/><circle cx="122.35" cy="903.53" r="3.2" fill="#fb8735"/><circle cx="130.34" cy="896.2" r="3.2" fill="#fd9a4e"/><circle cx="124.42" cy="903.89" r="3.2" fill="#fd9243"/><circle cx="137.56" cy="894.26" r="3.2" fill="#fc8a39"/><circle cx="129.6" cy="898.7" r="3.2" fill="#fd9a4e"/><circle cx="106.24" cy="925.43" r="3.2" fill="#f57520"/><circle cx="152.59" cy="873.52" r="3.2" fill="#fddab6"/><circle cx="151.41" cy="878.14" r="3.2" fill="#fedcb9"/><circle cx="173.59" cy="857.12" r="3.2" fill="#feebd7"/><circle cx="181.84" cy="847.7" r="3.2" fill="#fee6ce"/><circle cx="156.34" cy="873.94" r="3.2" fill="#fee5cb"/><circle cx="132.57" cy="895.03" r="3.2" fill="#fda35c"/><circle cx="187.82" cy="838.13" r="3.2" fill="#fdae6a"/><circle cx="159.82" cy="868.02" r="3.2" fill="#feeddc"/><circle cx="151.67" cy="876.36" r="3.2" fill="#feddbc"/><circle cx="181.07" cy="843.54" r="3.2" fill="#fd994d"/><circle cx="157.18" cy="872.64" r="3.2" fill="#fee8d2"/><circle cx="169.96" cy="862.43" r="3.2" fill="#fdc48f"/><circle cx="174.29" cy="854.34" r="3.2" fill="#feeddc"/><circle cx="160.52" cy="869.14" r="3.2" fill="#feeddc"/><circle cx="183.02" cy="845.37" r="3.2" fill="#fee5cb"/><circle cx="186.21" cy="842.24" r="3.2" fill="#fddbb8"/><circle cx="127.25" cy="900.14" r="3.2" fill="#fd9649"/><circle cx="167.08" cy="863.7" r="3.2" fill="#ffeedd"/><circle cx="151.25" cy="877.86" r="3.2" fill="#fedcb9"/><circle cx="178.82" cy="853.11" r="3.2" fill="#fdd8b2"/><circle cx="164.66" cy="864.89" r="3.2" fill="#fff5ea"/><circle cx="193.88" cy="835.38" r="3.2" fill="#fd9b50"/><circle cx="183.68" cy="845.83" r="3.2" fill="#fee4ca"/><circle cx="157.03" cy="872.52" r="3.2" fill="#fee8d2"/><circle cx="160.99" cy="867.87" r="3.2" fill="#ffefdf"/><circle cx="150.68" cy="878.14" r="3.2" fill="#fddbb8"/><circle cx="180.63" cy="846.91" r="3.2" fill="#fee6cf"/><circle cx="170.41" cy="859.01" r="3.2" fill="#fff0e2"/><circle cx="138.62" cy="889.38" r="3.2" fill="#fdb77a"/><circle cx="178.14" cy="850.57" r="3.2" fill="#fee9d4"/><circle cx="136.79" cy="890.82" r="3.2" fill="#fdb170"/><circle cx="166.3" cy="865.59" r="3.2" fill="#fddbb8"/><circle cx="139.19" cy="888.44" r="3.2" fill="#fdb97d"/><circle cx="174.58" cy="856.57" r="3.2" fill="#fee7d0"/><circle cx="142.59" cy="885.14" r="3.2" fill="#fdc590"/><circle cx="159.3" cy="873.07" r="3.2" fill="#fdb678"/><circle cx="174.2" cy="855.78" r="3.2" fill="#feeddb"/><circle cx="185.08" cy="844.05" r="3.2" fill="#fee1c4"/><circle cx="164.78" cy="863.08" r="3.2" fill="#fff5eb"/><circle cx="185.78" cy="844.63" r="3.2" fill="#feddbc"/><circle cx="154" cy="870.88" r="3.2" fill="#fdc38d"/><circle cx="161.26" cy="864.76" r="3.2" fill="#feead5"/><circle cx="171.03" cy="857.5" r="3.2" fill="#fff0e1"/><circle cx="165.39" cy="863.35" r="3.2" fill="#fff5eb"/><circle cx="182.82" cy="846.13" r="3.2" fill="#fee5cb"/><circle cx="146.9" cy="881.15" r="3.2" fill="#fdd2a6"/><circle cx="141.08" cy="887.03" r="3.2" fill="#fdc088"/><circle cx="175.2" cy="853.41" r="3.2" fill="#feecda"/><circle cx="178.23" cy="848.11" r="3.2" fill="#fee0c3"/><circle cx="173.4" cy="852.81" r="3.2" fill="#fee7d1"/><circle cx="155.53" cy="874.26" r="3.2" fill="#fee5cb"/><circle cx="162.95" cy="865.08" r="3.2" fill="#fff2e5"/><circle cx="167.41" cy="857.65" r="3.2" fill="#fddab6"/><circle cx="186.09" cy="840.74" r="3.2" fill="#fdd3a9"/><circle cx="157.14" cy="871.23" r="3.2" fill="#fee9d3"/><circle cx="155.04" cy="872.67" r="3.2" fill="#fee5cb"/><circle cx="173.52" cy="851.94" r="3.2" fill="#fdd9b4"/><circle cx="151.72" cy="876.86" r="3.2" fill="#feddbc"/><circle cx="169.97" cy="859.71" r="3.2" fill="#fff0e2"/><circle cx="169.24" cy="859.56" r="3.2" fill="#fff1e4"/><circle cx="177.21" cy="853.13" r="3.2" fill="#fee9d4"/><circle cx="173.76" cy="856.23" r="3.2" fill="#feeddc"/><circle cx="171.18" cy="857.08" r="3.2" fill="#fff0e1"/><circle cx="148.42" cy="881.41" r="3.2" fill="#fdd4aa"/><circle cx="180.34" cy="847.89" r="3.2" fill="#fee7d1"/><circle cx="153.73" cy="871.78" r="3.2" fill="#fdd5ab"/><circle cx="176.22" cy="855.17" r="3.2" fill="#fee2c7"/><circle cx="178.89" cy="849.98" r="3.2" fill="#fee9d3"/><circle cx="160.21" cy="867.3" r="3.2" fill="#feeddc"/><circle cx="186.18" cy="842.69" r="3.2" fill="#fddbb8"/><circle cx="174.89" cy="853.42" r="3.2" fill="#feecda"/><circle cx="166.91" cy="862.16" r="3.2" fill="#fff4e8"/><circle cx="181" cy="848.84" r="3.2" fill="#fee7d0"/><circle cx="172.67" cy="856.22" r="3.2" fill="#ffeede"/><circle cx="175.35" cy="851.36" r="3.2" fill="#fee9d3"/><circle cx="166.13" cy="861.94" r="3.2" fill="#fff4e9"/><circle cx="158.22" cy="870.61" r="3.2" fill="#feead6"/><circle cx="167.36" cy="859.67" r="3.2" fill="#fff2e6"/></g>
<g fill="#FFA940" stroke="#111" stroke-width="0.8"><rect x="89.4" y="737" width="14.04" height="1"/><rect x="103.44" y="722.4" width="14.04" height="15.6"/><rect x="117.48" y="717.4" width="14.04" height="20.6"/><rect x="131.52" y="725.6" width="14.04" height="12.4"/><rect x="145.56" y="713.6" width="14.04" height="24.4"/><rect x="159.6" y="705.1" width="14.04" height="32.9"/><rect x="173.64" y="707.6" width="14.04" height="30.4"/><rect x="187.68" y="728.7" width="14.04" height="9.3"/><rect x="201.72" y="727.8" width="14.04" height="10.2"/><rect x="215.76" y="731.6" width="14.04" height="6.4"/><rect x="229.8" y="732.2" width="14.04" height="5.8"/><rect x="243.84" y="732.2" width="14.04" height="5.8"/><rect x="257.88" y="734.1" width="14.04" height="3.9"/><rect x="288.3" y="754.7" width="3.1" height="13.2"/><rect x="288.3" y="767.9" width="6.5" height="13.2"/><rect x="288.3" y="781.1" width="4.9" height="13.2"/><rect x="288.3" y="794.3" width="3.7" height="13.2"/><rect x="288.3" y="807.5" width="8.8" height="13.2"/><rect x="288.3" y="820.7" width="5.8" height="13.2"/><rect x="288.3" y="833.9" width="15.8" height="13.2"/><rect x="288.3" y="847.1" width="33.1" height="13.2"/><rect x="288.3" y="860.3" width="22.7" height="13.2"/><rect x="288.3" y="873.5" width="22" height="13.2"/><rect x="288.3" y="886.7" width="9.3" height="13.2"/><rect x="288.3" y="899.9" width="17.6" height="13.2"/><rect x="288.3" y="913.1" width="16.9" height="13.2"/><rect x="288.3" y="926.3" width="1" height="13.2"/></g>
<g stroke="#000" stroke-width="1.5" fill="none" stroke-linecap="butt" stroke-linejoin="miter">
<path d="M80.9 745V949.4H281.8"/>
<path d="M80.9 738H281.8"/>
<path d="M288.3 745V949.6"/>
</g>
<path d="M113.5 950.15v2.8M113.5 738.75v2.8M180.5 950.15v2.8M180.5 738.75v2.8M247.5 950.15v2.8M247.5 738.75v2.8M80.15 919.5h-2.8M287.55 919.5h-2.8M80.15 849.5h-2.8M287.55 849.5h-2.8M80.15 779.5h-2.8M287.55 779.5h-2.8" stroke="#555" stroke-width="0.9" fill="none"/>
<g font-size="18.8" stroke="#000" stroke-width="0.45"><text x="113.4" y="967.8" text-anchor="middle" textLength="39.05" lengthAdjust="spacingAndGlyphs">200</text><text x="180.5" y="967.8" text-anchor="middle" textLength="39.05" lengthAdjust="spacingAndGlyphs">400</text><text x="247.6" y="967.8" text-anchor="middle" textLength="39.05" lengthAdjust="spacingAndGlyphs">600</text><text x="76.1" y="926.4" text-anchor="end" textLength="39.05" lengthAdjust="spacingAndGlyphs">200</text><text x="76.1" y="856.2" text-anchor="end" textLength="39.05" lengthAdjust="spacingAndGlyphs">400</text><text x="76.1" y="786" text-anchor="end" textLength="39.05" lengthAdjust="spacingAndGlyphs">600</text></g>
<text stroke="#000" stroke-width="0.3" x="126.7" y="988" font-size="17.2" textLength="108.6" lengthAdjust="spacingAndGlyphs">Exp. T<tspan font-style="italic" font-weight="normal" font-size="12" dy="3.5">g</tspan><tspan dy="-3.5"> (K)</tspan></text>
<text stroke="#000" stroke-width="0.3" transform="translate(29.3 905.2) rotate(-90)" x="0" y="0" font-size="17.2" textLength="116.8" lengthAdjust="spacingAndGlyphs">Pred. T<tspan font-style="italic" font-weight="normal" font-size="12" dy="3.5">g</tspan><tspan dy="-3.5"> (K)</tspan></text>
<text x="-1.77" y="723.5" font-size="42" textLength="36.81" lengthAdjust="spacingAndGlyphs">e.</text>
<text x="85.86" y="760.5" font-size="23.6" textLength="127.59" lengthAdjust="spacingAndGlyphs">training set</text>
<text x="193.47" y="920.5" font-size="20.7" textLength="13.65" lengthAdjust="spacingAndGlyphs">R</text>
<text x="208.17" y="914" font-size="12.6" textLength="8.07" lengthAdjust="spacingAndGlyphs" font-weight="normal">2</text>
<text x="216.43" y="920.5" font-size="20.7" textLength="64.46" lengthAdjust="spacingAndGlyphs">: 0.989</text>
<text x="149.66" y="943.9" font-size="20.7" textLength="130.66" lengthAdjust="spacingAndGlyphs">MAE: 8.337 K</text>
<clipPath id="clipf"><rect x="443.6" y="745.2" width="201.4" height="204"/></clipPath>
<g clip-path="url(#clipf)"><circle cx="572.8" cy="828.9" r="3.1" fill="#08306b"/><circle cx="635.1" cy="754.7" r="3.1" fill="#08448a"/><circle cx="510.1" cy="896.6" r="3.1" fill="#08458e"/><circle cx="569.7" cy="802.5" r="3.1" fill="#084082"/><circle cx="603.8" cy="780.5" r="3.1" fill="#08458a"/><circle cx="544.1" cy="815.4" r="3.1" fill="#084990"/><circle cx="592.7" cy="798.4" r="3.1" fill="#084a91"/><circle cx="479.2" cy="887" r="3.1" fill="#1a68ae"/><circle cx="492.3" cy="871.3" r="3.1" fill="#1a68ae"/><circle cx="467.6" cy="904.6" r="3.1" fill="#1c6bb0"/><circle cx="538" cy="831.6" r="3.1" fill="#1f6eb3"/><circle cx="524.8" cy="838.4" r="3.1" fill="#1f6eb3"/><circle cx="552.7" cy="833.2" r="3.1" fill="#2a78bd"/><circle cx="453" cy="939.6" r="3.1" fill="#2d7dbb"/><circle cx="512.9" cy="858.4" r="3.1" fill="#2f7fbc"/><circle cx="508.1" cy="872" r="3.1" fill="#75b4d8"/><circle cx="471.4" cy="909.6" r="3.1" fill="#79b5d9"/><circle cx="466.6" cy="916" r="3.1" fill="#6baed6"/><circle cx="466" cy="918.6" r="3.1" fill="#94c4df"/><circle cx="513.8" cy="883.2" r="3.1" fill="#9ecae1"/><circle cx="530.3" cy="857" r="3.1" fill="#b2d2e8"/><circle cx="471.6" cy="918.6" r="3.1" fill="#b4d3e9"/><circle cx="479" cy="913" r="3.1" fill="#c4daee"/><circle cx="515.2" cy="879" r="3.1" fill="#d9e7f5"/><circle cx="513.3" cy="873.5" r="3.1" fill="#e5eff9"/><circle cx="519.6" cy="869.7" r="3.1" fill="#e6f0f9"/><circle cx="508.1" cy="884.8" r="3.1" fill="#eef5fc"/><circle cx="512.6" cy="878.7" r="3.1" fill="#f5f9fe"/><circle cx="498" cy="893.4" r="3.1" fill="#f5fafe"/><circle cx="498.6" cy="889.4" r="3.1" fill="#f7fbff"/></g>
<g fill="#A5DAF0" stroke="#111" stroke-width="0.8"><rect x="452.6" y="708.6" width="30.48" height="29.7"/><rect x="483.08" y="704.8" width="30.48" height="33.5"/><rect x="513.56" y="712.3" width="30.48" height="26"/><rect x="544.04" y="723.7" width="30.48" height="14.6"/><rect x="574.52" y="731.3" width="30.48" height="7"/><rect x="605" y="734.4" width="30.48" height="3.9"/><rect x="651.2" y="754.7" width="6.5" height="30.97"/><rect x="651.2" y="785.67" width="10" height="30.97"/><rect x="651.2" y="816.64" width="13.2" height="30.97"/><rect x="651.2" y="847.61" width="19.2" height="30.97"/><rect x="651.2" y="878.58" width="33.1" height="30.97"/><rect x="651.2" y="909.55" width="19.2" height="30.97"/></g>
<g stroke="#000" stroke-width="1.5" fill="none" stroke-linecap="butt" stroke-linejoin="miter">
<path d="M443.6 745.2V949.2H645"/>
<path d="M443.6 738.3H645"/>
<path d="M651.2 745.4V949"/>
</g>
<path d="M469.5 949.95v2.8M469.5 739.05v2.8M537.5 949.95v2.8M537.5 739.05v2.8M606.5 949.95v2.8M606.5 739.05v2.8M442.85 921.5h-2.8M650.45 921.5h-2.8M442.85 848.5h-2.8M650.45 848.5h-2.8M442.85 774.5h-2.8M650.45 774.5h-2.8" stroke="#555" stroke-width="0.9" fill="none"/>
<g font-size="18.8" stroke="#000" stroke-width="0.45"><text x="469.6" y="967.6" text-anchor="middle" textLength="39.05" lengthAdjust="spacingAndGlyphs">200</text><text x="537.9" y="967.6" text-anchor="middle" textLength="39.05" lengthAdjust="spacingAndGlyphs">400</text><text x="606.2" y="967.6" text-anchor="middle" textLength="39.05" lengthAdjust="spacingAndGlyphs">600</text><text x="438.8" y="928.4" text-anchor="end" textLength="39.05" lengthAdjust="spacingAndGlyphs">200</text><text x="438.8" y="855.16" text-anchor="end" textLength="39.05" lengthAdjust="spacingAndGlyphs">400</text><text x="438.8" y="781.92" text-anchor="end" textLength="39.05" lengthAdjust="spacingAndGlyphs">600</text></g>
<text stroke="#000" stroke-width="0.3" x="490.4" y="988" font-size="17.2" textLength="108" lengthAdjust="spacingAndGlyphs">Exp. T<tspan font-style="italic" font-weight="normal" font-size="12" dy="3.5">g</tspan><tspan dy="-3.5"> (K)</tspan></text>
<text stroke="#000" stroke-width="0.3" transform="translate(392.4 905.2) rotate(-90)" x="0" y="0" font-size="17.2" textLength="116.8" lengthAdjust="spacingAndGlyphs">Pred. T<tspan font-style="italic" font-weight="normal" font-size="12" dy="3.5">g</tspan><tspan dy="-3.5"> (K)</tspan></text>
<text x="354.35" y="724" font-size="42" textLength="26.51" lengthAdjust="spacingAndGlyphs">f.</text>
<text x="450.87" y="762.2" font-size="23.6" textLength="81.91" lengthAdjust="spacingAndGlyphs">test set</text>
<text x="553.77" y="919" font-size="20.7" textLength="13.65" lengthAdjust="spacingAndGlyphs">R</text>
<text x="568.47" y="912.5" font-size="12.6" textLength="8.07" lengthAdjust="spacingAndGlyphs" font-weight="normal">2</text>
<text x="576.78" y="919" font-size="20.7" textLength="62.79" lengthAdjust="spacingAndGlyphs">: 0.926</text>
<text x="498.58" y="942" font-size="20.7" textLength="140.47" lengthAdjust="spacingAndGlyphs">MAE: 25.435 K</text>
</svg></body></html>
